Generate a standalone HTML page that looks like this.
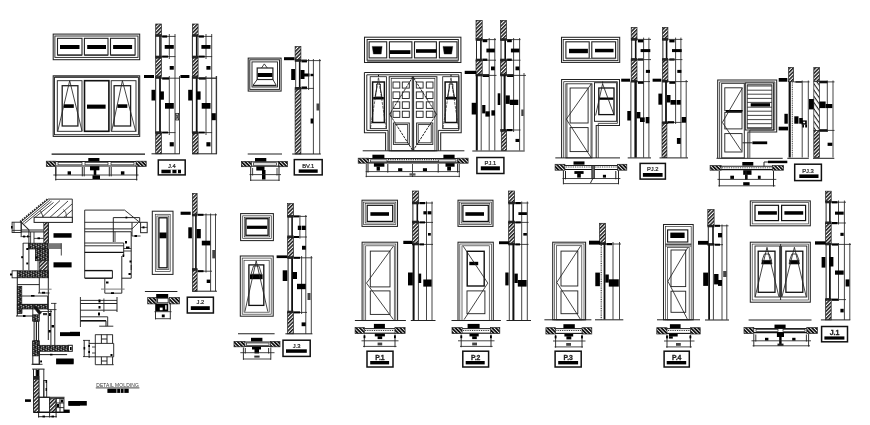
<!DOCTYPE html>
<html><head><meta charset="utf-8"><title>Door and window detail</title>
<style>html,body{margin:0;padding:0;background:#fff}svg{display:block;will-change:transform}text{font-family:"Liberation Sans",sans-serif}</style>
</head><body>
<svg width="870" height="425" viewBox="0 0 870 425">
<rect width="870" height="425" fill="#fff"/>
<defs>
<pattern id="h" width="2.6" height="2.6" patternUnits="userSpaceOnUse" patternTransform="rotate(-45)"><rect width="2.6" height="2.6" fill="#fff"/><rect width="2.6" height="1.5" fill="#1a1a1a"/></pattern>
<pattern id="hd" width="2.6" height="2.6" patternUnits="userSpaceOnUse" patternTransform="rotate(45)"><rect width="2.6" height="2.6" fill="#fff"/><rect width="2.6" height="1.8" fill="#111"/></pattern>
<pattern id="h2" width="3.6" height="3.6" patternUnits="userSpaceOnUse" patternTransform="rotate(55)"><rect width="3.6" height="3.6" fill="#fff"/><rect width="3.6" height="1.1" fill="#222"/></pattern>
<pattern id="st" width="5" height="4" patternUnits="userSpaceOnUse"><rect width="5" height="4" fill="#1a1a1a"/><rect x="0.5" y="0.7" width="1.3" height="1" fill="#eee"/><rect x="2.8" y="2.3" width="1.4" height="1" fill="#e4e4e4"/><rect x="3.4" y="0.3" width="0.9" height="0.9" fill="#ddd"/><rect x="1.2" y="2.7" width="0.9" height="0.9" fill="#ddd"/></pattern>
</defs>
<rect x="53.2" y="34.1" width="86.5" height="25.6" fill="none" stroke="#222" stroke-width="1.03"/>
<rect x="54.9" y="36" width="83.1" height="21.4" fill="none" stroke="#222" stroke-width="0.92"/>
<rect x="57.5" y="38.3" width="24.5" height="16.7" fill="none" stroke="#222" stroke-width="1.1"/>
<line x1="57.5" y1="55.3" x2="82" y2="55.3" stroke="#444" stroke-width="1.4"/>
<rect x="84.4" y="38.3" width="23.6" height="16.7" fill="none" stroke="#222" stroke-width="1.1"/>
<line x1="84.4" y1="55.3" x2="108" y2="55.3" stroke="#444" stroke-width="1.4"/>
<rect x="110.5" y="38.3" width="24.6" height="16.7" fill="none" stroke="#222" stroke-width="1.1"/>
<line x1="110.5" y1="55.3" x2="135.1" y2="55.3" stroke="#444" stroke-width="1.4"/>
<rect x="60" y="45" width="19.5" height="4" fill="#000"/>
<rect x="87.2" y="45" width="18.8" height="4" fill="#000"/>
<rect x="113.1" y="45" width="19" height="4" fill="#000"/>
<rect x="53.2" y="75.8" width="86.5" height="60.6" fill="none" stroke="#222" stroke-width="1.03"/>
<rect x="54.5" y="77.4" width="83.9" height="57.3" fill="none" stroke="#222" stroke-width="0.92"/>
<line x1="54.5" y1="76.6" x2="138.4" y2="76.6" stroke="#555" stroke-width="1.2"/>
<rect x="57.3" y="80.7" width="24.7" height="50.6" fill="none" stroke="#222" stroke-width="0.92"/>
<rect x="84.5" y="80.7" width="24.4" height="50.6" fill="none" stroke="#111" stroke-width="1.6"/>
<rect x="111.2" y="80.7" width="24.8" height="50.6" fill="none" stroke="#222" stroke-width="0.92"/>
<rect x="62.2" y="85.7" width="15.7" height="40.3" fill="none" stroke="#222" stroke-width="1.3"/>
<rect x="114.1" y="85.7" width="16.5" height="40.3" fill="none" stroke="#222" stroke-width="1.3"/>
<polyline points="57.8,131 69.7,80.7 82,131" fill="none" stroke="#222" stroke-width="0.84"/>
<polyline points="111.7,131 122.4,80.7 135.6,131" fill="none" stroke="#222" stroke-width="0.84"/>
<rect x="63.9" y="104.3" width="9.9" height="3.6" fill="#000"/>
<rect x="87" y="104.6" width="18.6" height="4.1" fill="#000"/>
<rect x="117.4" y="104.3" width="9.9" height="3.6" fill="#000"/>
<rect x="144" y="75" width="10" height="3" fill="#000"/>
<rect x="180.4" y="75" width="9" height="3" fill="#000"/>
<rect x="155.7" y="24" width="5.7" height="11.5" fill="url(#h)" stroke="#222" stroke-width="0.7"/>
<rect x="155.7" y="58" width="5.7" height="18" fill="url(#h)" stroke="#222" stroke-width="0.7"/>
<rect x="155.7" y="133" width="5.7" height="20.8" fill="url(#h)" stroke="#222" stroke-width="0.7"/>
<line x1="155.7" y1="35.5" x2="155.7" y2="58" stroke="#222" stroke-width="0.98"/>
<line x1="160" y1="35.5" x2="160" y2="58" stroke="#111" stroke-width="1.6"/>
<line x1="161.4" y1="35.5" x2="161.4" y2="58" stroke="#222" stroke-width="0.7"/>
<line x1="155.7" y1="76" x2="155.7" y2="133" stroke="#222" stroke-width="0.98"/>
<line x1="160" y1="76" x2="160" y2="133" stroke="#111" stroke-width="1.8"/>
<rect x="155.4" y="34.2" width="6.3" height="2.6" fill="#222"/>
<rect x="155.4" y="55.7" width="6.3" height="2.6" fill="#222"/>
<rect x="155.4" y="76.2" width="6.3" height="2.6" fill="#222"/>
<rect x="155.4" y="131.3" width="6.3" height="2.6" fill="#222"/>
<line x1="161.4" y1="36.4" x2="175.4" y2="36.4" stroke="#222" stroke-width="0.84"/>
<line x1="161.4" y1="56.6" x2="175.4" y2="56.6" stroke="#222" stroke-width="0.84"/>
<line x1="161.4" y1="78.2" x2="179.8" y2="78.2" stroke="#222" stroke-width="0.84"/>
<line x1="161.4" y1="132.6" x2="175.4" y2="132.6" stroke="#222" stroke-width="0.84"/>
<line x1="169.3" y1="34" x2="169.3" y2="59" stroke="#222" stroke-width="0.84"/>
<line x1="175" y1="34" x2="175" y2="153.8" stroke="#222" stroke-width="0.84"/>
<line x1="169.3" y1="76" x2="169.3" y2="135" stroke="#222" stroke-width="0.84"/>
<line x1="179.5" y1="76" x2="179.5" y2="153.8" stroke="#222" stroke-width="0.84"/>
<rect x="162.2" y="35.4" width="5" height="2.2" fill="#000"/>
<rect x="164.7" y="45" width="9.1" height="3.8" fill="#000"/>
<rect x="162.2" y="55.6" width="5.8" height="2" fill="#000"/>
<rect x="169.7" y="66" width="4.1" height="3.7" fill="#000"/>
<rect x="162.2" y="77.4" width="6.8" height="2.2" fill="#000"/>
<rect x="151.5" y="89.8" width="3.8" height="10.7" fill="#000"/>
<rect x="160" y="91.4" width="3.9" height="8.3" fill="#000"/>
<rect x="165" y="103" width="8.8" height="5.7" fill="#000"/>
<rect x="162.2" y="131.6" width="5.8" height="1.8" fill="#000"/>
<rect x="169.7" y="142.2" width="4.1" height="4.2" fill="#000"/>
<rect x="192.4" y="24" width="5.7" height="11.5" fill="url(#h)" stroke="#222" stroke-width="0.7"/>
<rect x="192.4" y="58" width="5.7" height="18" fill="url(#h)" stroke="#222" stroke-width="0.7"/>
<rect x="192.4" y="133" width="5.7" height="20.8" fill="url(#h)" stroke="#222" stroke-width="0.7"/>
<line x1="192.4" y1="35.5" x2="192.4" y2="58" stroke="#222" stroke-width="0.98"/>
<line x1="196.7" y1="35.5" x2="196.7" y2="58" stroke="#111" stroke-width="1.6"/>
<line x1="198.1" y1="35.5" x2="198.1" y2="58" stroke="#222" stroke-width="0.7"/>
<line x1="192.4" y1="76" x2="192.4" y2="133" stroke="#222" stroke-width="0.98"/>
<line x1="196.7" y1="76" x2="196.7" y2="133" stroke="#111" stroke-width="1.8"/>
<rect x="192.1" y="34.2" width="6.3" height="2.6" fill="#222"/>
<rect x="192.1" y="55.7" width="6.3" height="2.6" fill="#222"/>
<rect x="192.1" y="76.2" width="6.3" height="2.6" fill="#222"/>
<rect x="192.1" y="131.3" width="6.3" height="2.6" fill="#222"/>
<line x1="198.1" y1="36.4" x2="212.1" y2="36.4" stroke="#222" stroke-width="0.84"/>
<line x1="198.1" y1="56.6" x2="212.1" y2="56.6" stroke="#222" stroke-width="0.84"/>
<line x1="198.1" y1="78.2" x2="216.7" y2="78.2" stroke="#222" stroke-width="0.84"/>
<line x1="198.1" y1="132.6" x2="212.1" y2="132.6" stroke="#222" stroke-width="0.84"/>
<line x1="206" y1="34" x2="206" y2="59" stroke="#222" stroke-width="0.84"/>
<line x1="211.7" y1="34" x2="211.7" y2="153.8" stroke="#222" stroke-width="0.84"/>
<line x1="206" y1="76" x2="206" y2="135" stroke="#222" stroke-width="0.84"/>
<line x1="216.2" y1="76" x2="216.2" y2="153.8" stroke="#222" stroke-width="0.84"/>
<rect x="198.9" y="35.4" width="5" height="2.2" fill="#000"/>
<rect x="201.4" y="45" width="9.1" height="3.8" fill="#000"/>
<rect x="198.9" y="55.6" width="5.8" height="2" fill="#000"/>
<rect x="206.4" y="66" width="4.1" height="3.7" fill="#000"/>
<rect x="198.9" y="77.4" width="6.8" height="2.2" fill="#000"/>
<rect x="188.2" y="89.8" width="3.8" height="10.7" fill="#000"/>
<rect x="196.7" y="91.4" width="3.9" height="8.3" fill="#000"/>
<rect x="201.7" y="103" width="8.8" height="5.7" fill="#000"/>
<rect x="198.9" y="131.6" width="5.8" height="1.8" fill="#000"/>
<rect x="206.4" y="142.2" width="4.1" height="4.2" fill="#000"/>
<rect x="175.6" y="113.4" width="3" height="6.6" fill="none" stroke="#333" stroke-width="0.84"/>
<line x1="175.6" y1="113.4" x2="178.6" y2="120" stroke="#222" stroke-width="0.84"/>
<line x1="178.6" y1="113.4" x2="175.6" y2="120" stroke="#222" stroke-width="0.84"/>
<rect x="211.7" y="113.2" width="4.1" height="7" fill="#000"/>
<line x1="216.6" y1="76" x2="216.6" y2="153.8" stroke="#222" stroke-width="0.84"/>
<line x1="198" y1="78.2" x2="217" y2="78.2" stroke="#222" stroke-width="0.84"/>
<line x1="151.5" y1="153.8" x2="179.8" y2="153.8" stroke="#222" stroke-width="1.03"/>
<line x1="192.2" y1="153.8" x2="217" y2="153.8" stroke="#222" stroke-width="1.03"/>
<rect x="158.3" y="160" width="26.9" height="14.9" fill="#fff" stroke="#111" stroke-width="1.5"/>
<text x="171.8" y="168.3" font-size="5.8" font-weight="normal" text-anchor="middle" fill="#222" stroke="#222" stroke-width="0.22">J.4</text>
<rect x="161.4" y="169.7" width="19.6" height="3.6" fill="#000"/>
<rect x="170.7" y="169.5" width="1.7" height="4" fill="#fff"/>
<rect x="176.5" y="169.5" width="1.5" height="4" fill="#fff"/>
<line x1="51.6" y1="154.1" x2="145" y2="154.1" stroke="#111" stroke-width="1.1"/>
<rect x="46.3" y="161.2" width="9.5" height="5.3" fill="url(#hd)" stroke="#222" stroke-width="0.7"/>
<rect x="136" y="161.2" width="10.2" height="5.3" fill="url(#hd)" stroke="#222" stroke-width="0.7"/>
<line x1="55.8" y1="161.4" x2="136" y2="161.4" stroke="#222" stroke-width="1.03"/>
<line x1="55.8" y1="166" x2="136" y2="166" stroke="#111" stroke-width="1.2"/>
<rect x="58" y="162.6" width="24" height="2.2" fill="none" stroke="#222" stroke-width="0.7"/>
<rect x="85" y="162.6" width="23" height="2.2" fill="none" stroke="#222" stroke-width="0.7"/>
<rect x="111" y="162.6" width="23" height="2.2" fill="none" stroke="#222" stroke-width="0.7"/>
<rect x="88.3" y="158" width="11.1" height="3.2" fill="#000"/>
<rect x="90" y="166.2" width="9.4" height="4.1" fill="#000"/>
<rect x="93.7" y="170" width="2.6" height="5.3" fill="#000"/>
<rect x="92.5" y="175.3" width="7.5" height="3.7" fill="#000"/>
<line x1="53.3" y1="175" x2="138.5" y2="175" stroke="#222" stroke-width="0.84"/>
<line x1="55.2" y1="179.4" x2="137.3" y2="179.4" stroke="#222" stroke-width="0.84"/>
<line x1="55.8" y1="167" x2="55.8" y2="176.3" stroke="#222" stroke-width="0.98"/>
<line x1="82.3" y1="167" x2="82.3" y2="176.3" stroke="#222" stroke-width="0.98"/>
<line x1="84.2" y1="167" x2="84.2" y2="176.3" stroke="#222" stroke-width="0.98"/>
<line x1="109.3" y1="167" x2="109.3" y2="176.3" stroke="#222" stroke-width="0.98"/>
<line x1="111.2" y1="167" x2="111.2" y2="176.3" stroke="#222" stroke-width="0.98"/>
<line x1="136.7" y1="167" x2="136.7" y2="176.3" stroke="#222" stroke-width="0.98"/>
<line x1="55.8" y1="167" x2="55.8" y2="180.5" stroke="#222" stroke-width="0.98"/>
<line x1="136.7" y1="167" x2="136.7" y2="180.5" stroke="#222" stroke-width="0.98"/>
<rect x="67.6" y="171.3" width="3.4" height="3.4" fill="#000"/>
<rect x="120.9" y="171.3" width="3.5" height="3.4" fill="#000"/>
<rect x="248.2" y="58.1" width="32.9" height="33" fill="none" stroke="#222" stroke-width="1.03"/>
<rect x="249.8" y="59.8" width="29.7" height="29.6" fill="none" stroke="#222" stroke-width="0.98"/>
<rect x="252" y="61.9" width="25.5" height="25.1" fill="none" stroke="#222" stroke-width="0.92"/>
<rect x="257.2" y="68" width="15.7" height="11.5" fill="none" stroke="#222" stroke-width="1.2"/>
<rect x="257.8" y="73" width="14.5" height="4" fill="#000"/>
<line x1="259.5" y1="78.4" x2="270.5" y2="78.4" stroke="#fff" stroke-width="0.92"/>
<polyline points="257.2,79.5 253,85.3 276.2,85.3 272.9,79.5" fill="none" stroke="#222" stroke-width="0.92"/>
<line x1="253" y1="85.6" x2="276.2" y2="85.6" stroke="#222" stroke-width="1.2"/>
<polyline points="261.5,68 264.3,63.9 267.3,68" fill="none" stroke="#222" stroke-width="0.84"/>
<rect x="295.1" y="46.6" width="5.8" height="13.4" fill="url(#h)" stroke="#222" stroke-width="0.7"/>
<rect x="295.1" y="89" width="5.8" height="65" fill="url(#h)" stroke="#222" stroke-width="0.7"/>
<line x1="295.7" y1="60" x2="295.7" y2="89" stroke="#222" stroke-width="0.84"/>
<line x1="299.7" y1="60" x2="299.7" y2="89" stroke="#111" stroke-width="1.6"/>
<rect x="294.8" y="59.2" width="6.4" height="2.6" fill="#222"/>
<rect x="294.8" y="87" width="6.4" height="2.6" fill="#222"/>
<rect x="284" y="57.2" width="10.5" height="3" fill="#000"/>
<rect x="301.5" y="59.6" width="5.5" height="2.8" fill="#000"/>
<rect x="301.5" y="86.5" width="5.5" height="2.7" fill="#000"/>
<rect x="291.2" y="69" width="3.8" height="11" fill="#000"/>
<rect x="300.5" y="70" width="4" height="9" fill="#000"/>
<rect x="304" y="73.5" width="5.5" height="3" fill="#000"/>
<rect x="310.5" y="73.8" width="3" height="2.4" fill="#000"/>
<line x1="300.9" y1="60.6" x2="321" y2="60.6" stroke="#222" stroke-width="0.84"/>
<line x1="300.9" y1="88.4" x2="314" y2="88.4" stroke="#222" stroke-width="0.84"/>
<line x1="308.6" y1="59" x2="308.6" y2="90" stroke="#222" stroke-width="0.84"/>
<line x1="313.4" y1="59" x2="313.4" y2="154" stroke="#222" stroke-width="0.84"/>
<line x1="319.7" y1="59" x2="319.7" y2="154" stroke="#222" stroke-width="0.84"/>
<rect x="316.5" y="103.5" width="2.8" height="7" fill="#444"/>
<rect x="310.6" y="118.5" width="2.6" height="5" fill="#000"/>
<line x1="292.2" y1="154" x2="320.8" y2="154" stroke="#222" stroke-width="1.03"/>
<rect x="294.3" y="159.6" width="27.9" height="15.3" fill="#fff" stroke="#111" stroke-width="1.5"/>
<text x="308.2" y="167.7" font-size="5.8" font-weight="normal" text-anchor="middle" fill="#222" stroke="#222" stroke-width="0.22">BV.1</text>
<rect x="298.7" y="169.4" width="19" height="3.4" fill="#000"/>
<line x1="247.7" y1="154" x2="282" y2="154" stroke="#222" stroke-width="1.03"/>
<rect x="241.4" y="161.4" width="10.1" height="5.3" fill="url(#hd)" stroke="#222" stroke-width="0.7"/>
<rect x="278.4" y="161.4" width="9.1" height="5.3" fill="url(#hd)" stroke="#222" stroke-width="0.7"/>
<line x1="251.5" y1="161.8" x2="278.4" y2="161.8" stroke="#222" stroke-width="1.03"/>
<line x1="251.5" y1="166.2" x2="278.4" y2="166.2" stroke="#222" stroke-width="1.1"/>
<rect x="253.5" y="162.8" width="23" height="2.4" fill="none" stroke="#222" stroke-width="0.7"/>
<rect x="255" y="158" width="11.3" height="3.5" fill="#000"/>
<rect x="256.3" y="166.5" width="8.2" height="4" fill="#000"/>
<rect x="262" y="170" width="3.5" height="9.5" fill="#000"/>
<line x1="249.5" y1="174.6" x2="281" y2="174.6" stroke="#222" stroke-width="0.84"/>
<line x1="250.5" y1="180.2" x2="279.5" y2="180.2" stroke="#222" stroke-width="0.84"/>
<line x1="250.7" y1="167" x2="250.7" y2="181" stroke="#222" stroke-width="0.98"/>
<line x1="279" y1="167" x2="279" y2="181" stroke="#222" stroke-width="0.98"/>
<line x1="252.6" y1="168" x2="252.6" y2="175.5" stroke="#222" stroke-width="0.84"/>
<line x1="277" y1="168" x2="277" y2="175.5" stroke="#222" stroke-width="0.84"/>
<rect x="364.5" y="37.2" width="96.4" height="25.3" fill="none" stroke="#222" stroke-width="1.03"/>
<rect x="367.1" y="39.5" width="91.2" height="20.7" fill="none" stroke="#222" stroke-width="1.03"/>
<line x1="367.1" y1="61.2" x2="458.3" y2="61.2" stroke="#555" stroke-width="1.2"/>
<rect x="369.1" y="41.8" width="17.6" height="16.1" fill="none" stroke="#222" stroke-width="1.1"/>
<rect x="389.4" y="41.8" width="22.5" height="16.1" fill="none" stroke="#222" stroke-width="1.1"/>
<rect x="414.5" y="41.8" width="21.9" height="16.1" fill="none" stroke="#222" stroke-width="1.1"/>
<rect x="439.4" y="41.8" width="17.6" height="16.1" fill="none" stroke="#222" stroke-width="1.1"/>
<polygon points="372.2,46.4 382.1,46.4 381.2,54 373.4,54" fill="#000" stroke="#222" stroke-width="0.42"/>
<polygon points="443,46.4 452.8,46.4 451.6,54 444.2,54" fill="#000" stroke="#222" stroke-width="0.42"/>
<rect x="389.8" y="50.2" width="20.6" height="3.8" fill="#000"/>
<rect x="416" y="49.2" width="20.4" height="3.6" fill="#000"/>
<polyline points="364.4,72.4 461.2,72.4 461.2,132.8 440.7,132.8 440.7,150.8" fill="none" stroke="#222" stroke-width="1.03"/>
<polyline points="364.4,72.4 364.4,132.8 385.6,132.8 385.6,150.8" fill="none" stroke="#222" stroke-width="1.03"/>
<polyline points="366.8,74.8 458.8,74.8 458.8,130.4 438.3,130.4 438.3,150.8" fill="none" stroke="#222" stroke-width="0.98"/>
<polyline points="366.8,74.8 366.8,130.4 388,130.4 388,150.8" fill="none" stroke="#222" stroke-width="0.98"/>
<line x1="362.7" y1="150.8" x2="464.4" y2="150.8" stroke="#222" stroke-width="1"/>
<rect x="370.2" y="76.7" width="16.2" height="51.9" fill="none" stroke="#222" stroke-width="0.84"/>
<rect x="372.6" y="82" width="11.8" height="40.5" fill="none" stroke="#111" stroke-width="1.5"/>
<rect x="373.2" y="97" width="10.6" height="2.5" fill="#000"/>
<polygon points="376.7,84 380.3,84 380.3,88 381.9,97 375.1,97 376.7,88" fill="none" stroke="#222" stroke-width="0.98"/>
<polyline points="370.5,128 378.5,77.4 386,128" fill="none" stroke="#222" stroke-width="0.7" stroke-dasharray="3 1"/>
<rect x="378" y="74.8" width="1" height="1.5" fill="#000"/>
<rect x="442.7" y="76.7" width="16.2" height="51.9" fill="none" stroke="#222" stroke-width="0.84"/>
<rect x="445.1" y="82" width="11.8" height="40.5" fill="none" stroke="#111" stroke-width="1.5"/>
<rect x="445.7" y="97" width="10.6" height="2.5" fill="#000"/>
<polygon points="449.2,84 452.8,84 452.8,88 454.4,97 447.6,97 449.2,88" fill="none" stroke="#222" stroke-width="0.98"/>
<polyline points="443,128 451,77.4 458.5,128" fill="none" stroke="#222" stroke-width="0.7" stroke-dasharray="3 1"/>
<rect x="450.5" y="74.8" width="1" height="1.5" fill="#000"/>
<rect x="389.2" y="76.7" width="47.7" height="74.1" fill="none" stroke="#222" stroke-width="0.98"/>
<rect x="391.2" y="78.6" width="43.7" height="72.2" fill="none" stroke="#222" stroke-width="0.7"/>
<line x1="412.3" y1="76.7" x2="412.3" y2="150.8" stroke="#222" stroke-width="0.98"/>
<line x1="413.6" y1="76.7" x2="413.6" y2="150.8" stroke="#222" stroke-width="0.98"/>
<rect x="393" y="82" width="6.8" height="6.1" fill="none" stroke="#222" stroke-width="0.92"/>
<rect x="393" y="91.9" width="6.8" height="6.6" fill="none" stroke="#222" stroke-width="0.92"/>
<rect x="393" y="101.8" width="6.8" height="6.6" fill="none" stroke="#222" stroke-width="0.92"/>
<rect x="393" y="111.2" width="6.8" height="6.2" fill="none" stroke="#222" stroke-width="0.92"/>
<rect x="402.3" y="82" width="7" height="6.1" fill="none" stroke="#222" stroke-width="0.92"/>
<rect x="402.3" y="91.9" width="7" height="6.6" fill="none" stroke="#222" stroke-width="0.92"/>
<rect x="402.3" y="101.8" width="7" height="6.6" fill="none" stroke="#222" stroke-width="0.92"/>
<rect x="402.3" y="111.2" width="7" height="6.2" fill="none" stroke="#222" stroke-width="0.92"/>
<rect x="416.3" y="82" width="6.8" height="6.1" fill="none" stroke="#222" stroke-width="0.92"/>
<rect x="416.3" y="91.9" width="6.8" height="6.6" fill="none" stroke="#222" stroke-width="0.92"/>
<rect x="416.3" y="101.8" width="6.8" height="6.6" fill="none" stroke="#222" stroke-width="0.92"/>
<rect x="416.3" y="111.2" width="6.8" height="6.2" fill="none" stroke="#222" stroke-width="0.92"/>
<rect x="426.3" y="82" width="6.7" height="6.1" fill="none" stroke="#222" stroke-width="0.92"/>
<rect x="426.3" y="91.9" width="6.7" height="6.6" fill="none" stroke="#222" stroke-width="0.92"/>
<rect x="426.3" y="101.8" width="6.7" height="6.6" fill="none" stroke="#222" stroke-width="0.92"/>
<rect x="426.3" y="111.2" width="6.7" height="6.2" fill="none" stroke="#222" stroke-width="0.92"/>
<rect x="393.4" y="123" width="15.9" height="21.4" fill="none" stroke="#222" stroke-width="0.92"/>
<rect x="395" y="124.6" width="12.7" height="18.2" fill="none" stroke="#222" stroke-width="0.84"/>
<rect x="416.6" y="123" width="16.2" height="21.4" fill="none" stroke="#222" stroke-width="0.92"/>
<rect x="418.2" y="124.6" width="13" height="18.2" fill="none" stroke="#222" stroke-width="0.84"/>
<polygon points="412.9,76.7 389.6,114.2 412.9,150.8 436.5,114.2" fill="none" stroke="#222" stroke-width="0.98" stroke-dasharray="2.6 0.9"/>
<path d="M391.5 111.3 Q388.6 114.2 391.5 117.1 M434.6 111.3 Q437.5 114.2 434.6 117.1" fill="none" stroke="#222" stroke-width="0.8"/>
<rect x="358.2" y="158.2" width="10.5" height="5" fill="url(#hd)" stroke="#222" stroke-width="0.7"/>
<rect x="457.6" y="158.2" width="10.5" height="5" fill="url(#hd)" stroke="#222" stroke-width="0.7"/>
<line x1="368.7" y1="158.6" x2="457.6" y2="158.6" stroke="#222" stroke-width="1.03"/>
<line x1="368.7" y1="162.9" x2="457.6" y2="162.9" stroke="#111" stroke-width="1.2"/>
<rect x="370.5" y="159.8" width="16.5" height="2" fill="none" stroke="#222" stroke-width="0.7"/>
<rect x="438.5" y="159.8" width="17.5" height="2" fill="none" stroke="#222" stroke-width="0.7"/>
<line x1="388" y1="159.6" x2="437.5" y2="159.6" stroke="#222" stroke-width="1.1" stroke-dasharray="0.9 0.9"/>
<line x1="387" y1="161.4" x2="438.2" y2="161.4" stroke="#222" stroke-width="0.98"/>
<rect x="372.4" y="154.7" width="12" height="3.8" fill="#000"/>
<rect x="443.4" y="154.7" width="11.2" height="3.8" fill="#000"/>
<rect x="373.9" y="163.2" width="10.5" height="3.5" fill="#000"/>
<rect x="376.6" y="166.5" width="3.3" height="4.1" fill="#000"/>
<rect x="445.5" y="163.2" width="9.1" height="3.5" fill="#000"/>
<rect x="447.2" y="166.5" width="3.8" height="4.1" fill="#000"/>
<rect x="398.1" y="168.2" width="4.2" height="3" fill="#000"/>
<rect x="422.9" y="168.2" width="4.1" height="3" fill="#000"/>
<line x1="365.7" y1="171.6" x2="459.9" y2="171.6" stroke="#222" stroke-width="0.84"/>
<line x1="365.7" y1="176.4" x2="459.9" y2="176.4" stroke="#222" stroke-width="0.84"/>
<line x1="368" y1="164" x2="368" y2="172.5" stroke="#222" stroke-width="1.03"/>
<line x1="387.8" y1="164" x2="387.8" y2="172.5" stroke="#222" stroke-width="1.03"/>
<line x1="438.2" y1="164" x2="438.2" y2="172.5" stroke="#222" stroke-width="1.03"/>
<line x1="457.6" y1="164" x2="457.6" y2="172.5" stroke="#222" stroke-width="1.03"/>
<line x1="412.5" y1="164" x2="412.5" y2="177" stroke="#222" stroke-width="0.84"/>
<line x1="366.3" y1="164" x2="366.3" y2="177.2" stroke="#222" stroke-width="0.84"/>
<line x1="459.3" y1="164" x2="459.3" y2="177.2" stroke="#222" stroke-width="0.84"/>
<rect x="409.5" y="173.3" width="6" height="2.3" fill="#555"/>
<rect x="476" y="20.4" width="6.2" height="18.8" fill="url(#h)" stroke="#222" stroke-width="0.7"/>
<rect x="476" y="60.5" width="6.2" height="14.5" fill="url(#h)" stroke="#222" stroke-width="0.7"/>
<line x1="476.5" y1="39.2" x2="476.5" y2="60.5" stroke="#222" stroke-width="0.98"/>
<line x1="480.9" y1="39.2" x2="480.9" y2="60.5" stroke="#111" stroke-width="1.6"/>
<rect x="475.7" y="38.3" width="6.8" height="2.6" fill="#222"/>
<rect x="475.7" y="58.7" width="6.8" height="2.6" fill="#222"/>
<rect x="475.7" y="73.7" width="6.8" height="2.6" fill="#222"/>
<line x1="476.8" y1="75" x2="476.8" y2="150.5" stroke="#111" stroke-width="2"/>
<line x1="481.2" y1="75" x2="481.2" y2="150.5" stroke="#222" stroke-width="0.84"/>
<line x1="489.2" y1="38" x2="489.2" y2="150.5" stroke="#222" stroke-width="0.84"/>
<line x1="494.8" y1="38" x2="494.8" y2="150.5" stroke="#222" stroke-width="0.84"/>
<rect x="464.7" y="70.8" width="11.3" height="3.2" fill="#000"/>
<rect x="500.5" y="20.4" width="6" height="18.8" fill="url(#h)" stroke="#222" stroke-width="0.7"/>
<rect x="500.5" y="60.5" width="6" height="14.5" fill="url(#h)" stroke="#222" stroke-width="0.7"/>
<rect x="501.3" y="130.4" width="5.3" height="20.1" fill="url(#h)" stroke="#222" stroke-width="0.7"/>
<line x1="501" y1="39.2" x2="501" y2="60.5" stroke="#222" stroke-width="0.98"/>
<line x1="505.2" y1="39.2" x2="505.2" y2="60.5" stroke="#111" stroke-width="1.6"/>
<rect x="500.2" y="38.3" width="6.6" height="2.6" fill="#222"/>
<rect x="500.2" y="58.7" width="6.6" height="2.6" fill="#222"/>
<rect x="500.2" y="73.7" width="6.6" height="2.6" fill="#222"/>
<rect x="500.2" y="129.1" width="6.6" height="2.6" fill="#222"/>
<line x1="504.6" y1="75" x2="504.6" y2="130.4" stroke="#111" stroke-width="2"/>
<line x1="501.3" y1="75" x2="501.3" y2="130.4" stroke="#222" stroke-width="0.84"/>
<line x1="513.6" y1="38" x2="513.6" y2="132" stroke="#222" stroke-width="0.84"/>
<line x1="519.6" y1="38" x2="519.6" y2="150.5" stroke="#222" stroke-width="0.84"/>
<line x1="524" y1="73" x2="524" y2="150.5" stroke="#222" stroke-width="0.84"/>
<rect x="482.6" y="39.2" width="4.7" height="3" fill="#000"/>
<rect x="486.4" y="48.6" width="8.4" height="3.8" fill="#000"/>
<rect x="482.6" y="58.6" width="4.7" height="2.4" fill="#000"/>
<rect x="491" y="66.5" width="3.8" height="3.8" fill="#000"/>
<rect x="482.6" y="74.2" width="6.4" height="2.8" fill="#000"/>
<line x1="482.2" y1="39.6" x2="496" y2="39.6" stroke="#222" stroke-width="0.84"/>
<line x1="482.2" y1="60.2" x2="496" y2="60.2" stroke="#222" stroke-width="0.84"/>
<rect x="507.1" y="39.2" width="4.7" height="3" fill="#000"/>
<rect x="510.9" y="48.6" width="8.4" height="3.8" fill="#000"/>
<rect x="507.1" y="58.6" width="4.7" height="2.4" fill="#000"/>
<rect x="515.5" y="66.5" width="3.8" height="3.8" fill="#000"/>
<rect x="507.1" y="74.2" width="6.4" height="2.8" fill="#000"/>
<line x1="506.7" y1="39.6" x2="520.5" y2="39.6" stroke="#222" stroke-width="0.84"/>
<line x1="506.7" y1="60.2" x2="520.5" y2="60.2" stroke="#222" stroke-width="0.84"/>
<line x1="482.2" y1="75.4" x2="496.5" y2="75.4" stroke="#222" stroke-width="0.84"/>
<line x1="506.5" y1="75.4" x2="526" y2="75.4" stroke="#222" stroke-width="0.84"/>
<line x1="506.6" y1="130" x2="520.5" y2="130" stroke="#222" stroke-width="0.84"/>
<rect x="507" y="129" width="5.5" height="2.2" fill="#000"/>
<rect x="471.7" y="102.8" width="4.3" height="11.7" fill="#000"/>
<rect x="482.2" y="105" width="3.2" height="8.4" fill="#000"/>
<rect x="485.4" y="111.3" width="4.3" height="5.3" fill="#000"/>
<rect x="491.4" y="110.3" width="3.6" height="5.3" fill="#000"/>
<rect x="497.7" y="93.3" width="2.6" height="11.7" fill="#000"/>
<rect x="505.6" y="95.4" width="4.2" height="8.5" fill="#000"/>
<rect x="509.8" y="99.7" width="8.5" height="5.3" fill="#000"/>
<rect x="515.5" y="138.9" width="3.8" height="3.1" fill="#000"/>
<rect x="521.3" y="109.5" width="2.3" height="6.5" fill="#444"/>
<line x1="472.3" y1="151" x2="524.7" y2="151" stroke="#222" stroke-width="1.03"/>
<rect x="476.9" y="157.5" width="27" height="16" fill="#fff" stroke="#111" stroke-width="1.5"/>
<text x="490.4" y="164.7" font-size="5.8" font-weight="normal" text-anchor="middle" fill="#222" stroke="#222" stroke-width="0.22">PJ.1</text>
<rect x="480.8" y="166.3" width="19.1" height="4" fill="#000"/>
<rect x="561.5" y="37.3" width="58.2" height="25.1" fill="none" stroke="#222" stroke-width="1.03"/>
<rect x="563.2" y="39.5" width="54.7" height="21.1" fill="none" stroke="#222" stroke-width="0.92"/>
<rect x="565.9" y="41.8" width="23.3" height="16.4" fill="none" stroke="#222" stroke-width="1.1"/>
<rect x="591.8" y="41.8" width="23.8" height="16.4" fill="none" stroke="#222" stroke-width="1.1"/>
<line x1="565.9" y1="58.8" x2="615.6" y2="58.8" stroke="#555" stroke-width="1.1"/>
<rect x="569" y="48.8" width="18.9" height="4.4" fill="#000"/>
<rect x="595" y="48.8" width="18.5" height="3.5" fill="#000"/>
<polyline points="596.2,157.9 596.2,125.5 619.5,125.5 619.5,79.5 561.6,79.5 561.6,157.9" fill="none" stroke="#222" stroke-width="1.03"/>
<polyline points="598.3,157.9 598.3,123.4 617.4,123.4 617.4,81.6 563.7,81.6 563.7,157.9" fill="none" stroke="#222" stroke-width="0.77"/>
<line x1="555.3" y1="157.9" x2="620" y2="157.9" stroke="#222" stroke-width="1"/>
<rect x="565.9" y="83.8" width="26.1" height="74.1" fill="none" stroke="#222" stroke-width="0.84"/>
<line x1="567" y1="83.8" x2="567" y2="157.9" stroke="#222" stroke-width="0.7"/>
<line x1="591" y1="83.8" x2="591" y2="157.9" stroke="#222" stroke-width="0.7"/>
<rect x="570.1" y="88" width="18" height="35" fill="none" stroke="#222" stroke-width="0.92"/>
<rect x="570.1" y="127.6" width="18" height="24" fill="none" stroke="#222" stroke-width="0.92"/>
<polyline points="591.3,83.8 566.3,119.2 591.3,157.9" fill="none" stroke="#222" stroke-width="0.84"/>
<rect x="594.5" y="82.7" width="22.2" height="38.6" fill="none" stroke="#222" stroke-width="0.98"/>
<rect x="598.8" y="88" width="15.2" height="26.6" fill="none" stroke="#111" stroke-width="1.3"/>
<rect x="599.3" y="97.5" width="14.1" height="2.3" fill="#000"/>
<polyline points="595.6,115.5 602.6,83.8 614.2,115.2" fill="none" stroke="#222" stroke-width="0.84"/>
<line x1="602.6" y1="83.6" x2="602.6" y2="81.5" stroke="#222" stroke-width="0.92"/>
<rect x="631.2" y="27.4" width="5.8" height="11.6" fill="url(#h)" stroke="#222" stroke-width="0.7"/>
<rect x="631.2" y="59.7" width="5.8" height="21.7" fill="url(#h)" stroke="#222" stroke-width="0.7"/>
<line x1="631.7" y1="39" x2="631.7" y2="59.7" stroke="#222" stroke-width="0.98"/>
<line x1="635.7" y1="39" x2="635.7" y2="59.7" stroke="#111" stroke-width="1.6"/>
<rect x="630.9" y="38.1" width="6.4" height="2.6" fill="#222"/>
<rect x="630.9" y="58.1" width="6.4" height="2.6" fill="#222"/>
<rect x="630.9" y="79.9" width="6.4" height="2.6" fill="#222"/>
<line x1="630.9" y1="81.4" x2="630.9" y2="157.6" stroke="#222" stroke-width="0.84"/>
<line x1="635.6" y1="81.4" x2="635.6" y2="157.6" stroke="#111" stroke-width="2.4"/>
<line x1="643.6" y1="37.6" x2="643.6" y2="157.6" stroke="#222" stroke-width="0.84"/>
<line x1="648.9" y1="37.6" x2="648.9" y2="157.6" stroke="#222" stroke-width="0.84"/>
<rect x="662.4" y="27.4" width="5.5" height="11.6" fill="url(#h)" stroke="#222" stroke-width="0.7"/>
<rect x="662.4" y="59.7" width="5.5" height="21.7" fill="url(#h)" stroke="#222" stroke-width="0.7"/>
<rect x="662" y="122.7" width="4.9" height="34.9" fill="url(#h)" stroke="#222" stroke-width="0.7"/>
<line x1="662.9" y1="39" x2="662.9" y2="59.7" stroke="#222" stroke-width="0.98"/>
<line x1="666.6" y1="39" x2="666.6" y2="59.7" stroke="#111" stroke-width="1.6"/>
<rect x="662.1" y="38.1" width="6.1" height="2.6" fill="#222"/>
<rect x="662.1" y="58.1" width="6.1" height="2.6" fill="#222"/>
<rect x="662.1" y="79.9" width="6.1" height="2.6" fill="#222"/>
<rect x="662.1" y="121.4" width="6.1" height="2.6" fill="#222"/>
<line x1="662.2" y1="81.4" x2="662.2" y2="122.7" stroke="#222" stroke-width="0.84"/>
<line x1="666" y1="81.4" x2="666" y2="122.7" stroke="#111" stroke-width="1.8"/>
<line x1="675.6" y1="37.6" x2="675.6" y2="124" stroke="#222" stroke-width="0.84"/>
<line x1="680.9" y1="37.6" x2="680.9" y2="157.6" stroke="#222" stroke-width="0.84"/>
<line x1="686.2" y1="80" x2="686.2" y2="157.6" stroke="#222" stroke-width="0.84"/>
<rect x="637.9" y="39.6" width="5.3" height="2.8" fill="#000"/>
<rect x="640.6" y="49.1" width="9.7" height="3" fill="#000"/>
<rect x="637.9" y="58.4" width="5.3" height="2.2" fill="#000"/>
<rect x="645.9" y="69.9" width="4.1" height="3" fill="#000"/>
<rect x="621.2" y="78.7" width="8.8" height="3" fill="#000"/>
<rect x="637.9" y="81.4" width="5.7" height="2.4" fill="#000"/>
<line x1="637" y1="39.4" x2="651" y2="39.4" stroke="#222" stroke-width="0.84"/>
<line x1="637" y1="59.6" x2="651" y2="59.6" stroke="#222" stroke-width="0.84"/>
<rect x="669.3" y="39.6" width="5.3" height="2.8" fill="#000"/>
<rect x="672" y="49.1" width="9.7" height="3" fill="#000"/>
<rect x="669.3" y="58.4" width="5.3" height="2.2" fill="#000"/>
<rect x="677.3" y="69.9" width="4.1" height="3" fill="#000"/>
<rect x="652.6" y="78.7" width="8.8" height="3" fill="#000"/>
<rect x="669.3" y="81.4" width="5.7" height="2.4" fill="#000"/>
<line x1="668.4" y1="39.4" x2="682.4" y2="39.4" stroke="#222" stroke-width="0.84"/>
<line x1="668.4" y1="59.6" x2="682.4" y2="59.6" stroke="#222" stroke-width="0.84"/>
<line x1="637" y1="81.6" x2="650" y2="81.6" stroke="#222" stroke-width="0.84"/>
<line x1="667.9" y1="81.6" x2="688" y2="81.6" stroke="#222" stroke-width="0.84"/>
<line x1="667" y1="122.4" x2="681.5" y2="122.4" stroke="#222" stroke-width="0.84"/>
<rect x="668" y="121.2" width="6" height="2.2" fill="#000"/>
<rect x="627.3" y="111" width="3.6" height="9.5" fill="#000"/>
<rect x="636.6" y="112" width="3.8" height="6.4" fill="#000"/>
<rect x="640" y="117.4" width="4.7" height="4.6" fill="#000"/>
<rect x="645.7" y="117" width="3.6" height="6.3" fill="#000"/>
<rect x="658.4" y="93.6" width="3.6" height="11.1" fill="#000"/>
<rect x="666.9" y="95" width="3.6" height="7.5" fill="#000"/>
<rect x="670.5" y="100" width="5.9" height="4.7" fill="#000"/>
<rect x="676.9" y="100" width="3.8" height="4.7" fill="#000"/>
<rect x="681.7" y="117" width="4.3" height="5.7" fill="#000"/>
<rect x="676.9" y="138" width="3.8" height="5.9" fill="#000"/>
<line x1="627.7" y1="157.9" x2="651" y2="157.9" stroke="#222" stroke-width="1.03"/>
<line x1="659.5" y1="157.9" x2="688" y2="157.9" stroke="#222" stroke-width="1.03"/>
<rect x="640.1" y="163.4" width="25.3" height="15.7" fill="#fff" stroke="#111" stroke-width="1.5"/>
<text x="652.8" y="171" font-size="5.8" font-weight="normal" text-anchor="middle" fill="#222" stroke="#222" stroke-width="0.22">PJ.2</text>
<rect x="642.9" y="173" width="19.7" height="3.8" fill="#000"/>
<rect x="555.1" y="164.3" width="9.8" height="5.9" fill="url(#hd)" stroke="#222" stroke-width="0.7"/>
<rect x="617.6" y="164.3" width="9.2" height="5.9" fill="url(#hd)" stroke="#222" stroke-width="0.7"/>
<line x1="564.9" y1="165.6" x2="617.6" y2="165.6" stroke="#222" stroke-width="1.03"/>
<line x1="564.9" y1="169.5" x2="617.6" y2="169.5" stroke="#111" stroke-width="1.2"/>
<line x1="566" y1="167" x2="617" y2="167" stroke="#222" stroke-width="0.92" stroke-dasharray="0.9 0.9"/>
<rect x="573.5" y="161.4" width="11" height="3.3" fill="#000"/>
<rect x="574.4" y="171.1" width="9.2" height="2.8" fill="#000"/>
<rect x="577.2" y="173.5" width="3.6" height="4.1" fill="#000"/>
<rect x="602.9" y="174.8" width="3.1" height="2.8" fill="#000"/>
<rect x="591.9" y="165.6" width="2.4" height="12.9" fill="#777" stroke="#222" stroke-width="0.98"/>
<line x1="562.5" y1="178.5" x2="620.4" y2="178.5" stroke="#222" stroke-width="0.84"/>
<line x1="563.4" y1="183.6" x2="618.5" y2="183.6" stroke="#222" stroke-width="0.84"/>
<line x1="563.4" y1="170.5" x2="563.4" y2="184.3" stroke="#222" stroke-width="0.98"/>
<line x1="618.5" y1="170.5" x2="618.5" y2="184.3" stroke="#222" stroke-width="0.98"/>
<line x1="565.5" y1="171" x2="565.5" y2="179.3" stroke="#222" stroke-width="1"/>
<line x1="615.8" y1="171" x2="615.8" y2="179.3" stroke="#222" stroke-width="1"/>
<line x1="592.8" y1="178.5" x2="590.5" y2="183" stroke="#222" stroke-width="0.98"/>
<polyline points="747.9,157.9 747.9,131.9 776.7,131.9 776.7,80 717.7,80 717.7,157.9" fill="none" stroke="#222" stroke-width="1.03"/>
<polyline points="749.8,157.9 749.8,130 774.8,130 774.8,81.9 719.6,81.9 719.6,157.9" fill="none" stroke="#222" stroke-width="0.77"/>
<line x1="716.5" y1="158.3" x2="782.7" y2="158.3" stroke="#222" stroke-width="1"/>
<rect x="721.7" y="83.3" width="22.6" height="74.6" fill="none" stroke="#222" stroke-width="0.92"/>
<rect x="724.8" y="87.8" width="17.2" height="22.9" fill="none" stroke="#222" stroke-width="0.92"/>
<rect x="724.8" y="112.4" width="17.2" height="16.5" fill="none" stroke="#222" stroke-width="0.92"/>
<rect x="724.8" y="133.6" width="17.2" height="18.4" fill="none" stroke="#222" stroke-width="0.92"/>
<rect x="725.9" y="110" width="16.7" height="1.9" fill="#000"/>
<polyline points="742.5,87.8 722.4,122.4 741.3,150.8" fill="none" stroke="#222" stroke-width="0.84"/>
<rect x="745.3" y="82.9" width="28.3" height="47.1" fill="none" stroke="#222" stroke-width="0.98"/>
<rect x="747.2" y="84.8" width="24.7" height="43.4" fill="none" stroke="#222" stroke-width="0.92"/>
<line x1="747.2" y1="86" x2="771.9" y2="86" stroke="#222" stroke-width="0.84"/>
<line x1="747.2" y1="90.2" x2="771.9" y2="90.2" stroke="#222" stroke-width="0.84"/>
<line x1="747.2" y1="94.2" x2="771.9" y2="94.2" stroke="#222" stroke-width="0.84"/>
<line x1="747.2" y1="98.4" x2="771.9" y2="98.4" stroke="#222" stroke-width="0.84"/>
<line x1="747.2" y1="102.4" x2="771.9" y2="102.4" stroke="#222" stroke-width="0.84"/>
<line x1="747.2" y1="107.2" x2="771.9" y2="107.2" stroke="#222" stroke-width="0.84"/>
<line x1="747.2" y1="111.2" x2="771.9" y2="111.2" stroke="#222" stroke-width="0.84"/>
<line x1="747.2" y1="115.4" x2="771.9" y2="115.4" stroke="#222" stroke-width="0.84"/>
<line x1="747.2" y1="119.6" x2="771.9" y2="119.6" stroke="#222" stroke-width="0.84"/>
<line x1="747.2" y1="123.7" x2="771.9" y2="123.7" stroke="#222" stroke-width="0.84"/>
<line x1="747.2" y1="127.8" x2="771.9" y2="127.8" stroke="#222" stroke-width="0.84"/>
<rect x="750.7" y="103.2" width="19.3" height="3.3" fill="#000"/>
<rect x="752.4" y="141.4" width="14.8" height="2.8" fill="#000"/>
<line x1="742.5" y1="142.8" x2="752.4" y2="142.8" stroke="#222" stroke-width="0.98"/>
<rect x="788.6" y="67.4" width="4.9" height="14.3" fill="url(#h)" stroke="#222" stroke-width="0.7"/>
<line x1="789.7" y1="81.7" x2="789.7" y2="157.5" stroke="#111" stroke-width="2.2"/>
<line x1="792.3" y1="81.7" x2="792.3" y2="157.5" stroke="#222" stroke-width="0.92" stroke-dasharray="1 0.8"/>
<line x1="802.2" y1="80.5" x2="802.2" y2="157.5" stroke="#222" stroke-width="0.84"/>
<line x1="808.3" y1="80.5" x2="808.3" y2="157.5" stroke="#222" stroke-width="0.84"/>
<line x1="793.5" y1="81.9" x2="809.5" y2="81.9" stroke="#222" stroke-width="0.84"/>
<rect x="795.5" y="81" width="6.5" height="1.8" fill="#333"/>
<rect x="778.7" y="78" width="8.6" height="3.7" fill="#000"/>
<rect x="778.7" y="126.7" width="9.3" height="3.7" fill="#000"/>
<rect x="784.4" y="113.8" width="3.4" height="9.9" fill="#000"/>
<rect x="794.3" y="116.3" width="4.2" height="7.4" fill="#000"/>
<rect x="799.2" y="118" width="3.5" height="5.7" fill="#000"/>
<rect x="801.6" y="120.4" width="5.2" height="4.2" fill="#000"/>
<rect x="803.2" y="121.7" width="1.9" height="1.5" fill="#fff"/>
<rect x="802.4" y="124.4" width="1.6" height="3.1" fill="#000"/>
<rect x="805.2" y="124.4" width="1.8" height="3.1" fill="#000"/>
<rect x="813.8" y="67.4" width="5.6" height="14.3" fill="url(#h)" stroke="#222" stroke-width="0.7"/>
<rect x="813.8" y="81.7" width="5.6" height="48.7" fill="url(#h2)" stroke="#222" stroke-width="0.7"/>
<rect x="813.8" y="130.4" width="5.6" height="27.1" fill="url(#h)" stroke="#222" stroke-width="0.7"/>
<line x1="827.3" y1="80.5" x2="827.3" y2="132" stroke="#222" stroke-width="0.84"/>
<line x1="833" y1="80.5" x2="833" y2="157.5" stroke="#222" stroke-width="0.84"/>
<line x1="819.4" y1="81.9" x2="834.5" y2="81.9" stroke="#222" stroke-width="0.84"/>
<line x1="819.4" y1="130.4" x2="834.5" y2="130.4" stroke="#222" stroke-width="0.84"/>
<rect x="819.6" y="80.7" width="7.8" height="2.6" fill="#111"/>
<rect x="819.6" y="129.2" width="7.8" height="2.6" fill="#111"/>
<rect x="809" y="99" width="4.8" height="10.4" fill="#000"/>
<rect x="819.4" y="101.5" width="6.2" height="6.6" fill="#000"/>
<rect x="825.6" y="104" width="6.7" height="4.1" fill="#000"/>
<rect x="827.6" y="142.7" width="4.7" height="3.2" fill="#000"/>
<line x1="787.3" y1="158.3" x2="808.8" y2="158.3" stroke="#222" stroke-width="1.03"/>
<line x1="813" y1="158.3" x2="834.3" y2="158.3" stroke="#222" stroke-width="1.03"/>
<rect x="794.7" y="164.2" width="26.7" height="16.4" fill="#fff" stroke="#111" stroke-width="1.5"/>
<text x="808" y="172.6" font-size="5.8" font-weight="normal" text-anchor="middle" fill="#222" stroke="#222" stroke-width="0.22">PJ.3</text>
<rect x="799.3" y="174.4" width="19.2" height="3.6" fill="#000"/>
<rect x="710.1" y="165.6" width="11" height="4.6" fill="url(#hd)" stroke="#222" stroke-width="0.7"/>
<rect x="772.6" y="165.6" width="11" height="4.6" fill="url(#hd)" stroke="#222" stroke-width="0.7"/>
<line x1="721.1" y1="166.3" x2="772.6" y2="166.3" stroke="#222" stroke-width="1.03"/>
<line x1="721.1" y1="169.6" x2="772.6" y2="169.6" stroke="#111" stroke-width="1.2"/>
<line x1="722" y1="167.8" x2="772" y2="167.8" stroke="#222" stroke-width="0.92" stroke-dasharray="0.9 0.9"/>
<rect x="742.3" y="162" width="11" height="3.6" fill="#000"/>
<rect x="768" y="160.7" width="19.3" height="2.5" fill="#000"/>
<polyline points="768,162 764,162 764,166.5" fill="none" stroke="#222" stroke-width="0.98"/>
<rect x="743.2" y="170.2" width="8.3" height="4.6" fill="#000"/>
<rect x="745" y="174.5" width="2.6" height="5.1" fill="#000"/>
<rect x="730.3" y="175.7" width="3.7" height="3.2" fill="#000"/>
<rect x="757.9" y="175.7" width="2.8" height="3.2" fill="#000"/>
<line x1="717.5" y1="179.4" x2="776.3" y2="179.4" stroke="#222" stroke-width="0.84"/>
<line x1="718.4" y1="185.8" x2="775.4" y2="185.8" stroke="#222" stroke-width="0.84"/>
<rect x="743.2" y="182.2" width="6.4" height="3.1" fill="#000"/>
<line x1="719.3" y1="171" x2="719.3" y2="186.6" stroke="#222" stroke-width="1.03"/>
<line x1="773.5" y1="171" x2="773.5" y2="186.6" stroke="#222" stroke-width="1.03"/>
<line x1="746" y1="170.5" x2="746" y2="180" stroke="#222" stroke-width="1.03"/>
<rect x="152.3" y="211.2" width="20.7" height="63.2" fill="none" stroke="#222" stroke-width="1.03"/>
<rect x="155.3" y="214.3" width="14.9" height="57.1" fill="none" stroke="#333" stroke-width="0.7"/>
<rect x="156.9" y="216" width="11.9" height="53.6" fill="none" stroke="#333" stroke-width="0.7"/>
<rect x="158.9" y="217.8" width="8.2" height="50" fill="none" stroke="#111" stroke-width="1.3"/>
<rect x="159.5" y="232.5" width="7" height="5.8" fill="#000"/>
<rect x="192.4" y="193.5" width="4.7" height="21.3" fill="url(#h)" stroke="#222" stroke-width="0.7"/>
<rect x="192.4" y="269" width="4.7" height="22.2" fill="url(#h)" stroke="#222" stroke-width="0.7"/>
<line x1="192.9" y1="214.8" x2="192.9" y2="269" stroke="#222" stroke-width="0.98"/>
<line x1="195.9" y1="214.8" x2="195.9" y2="269" stroke="#111" stroke-width="1.6"/>
<rect x="192.1" y="213.7" width="5.3" height="2.6" fill="#222"/>
<rect x="192.1" y="268.2" width="5.3" height="2.6" fill="#222"/>
<line x1="206" y1="213.5" x2="206" y2="272.5" stroke="#222" stroke-width="0.84"/>
<line x1="210.6" y1="213.5" x2="210.6" y2="291.2" stroke="#222" stroke-width="0.84"/>
<line x1="215.5" y1="213.5" x2="215.5" y2="291.2" stroke="#222" stroke-width="0.84"/>
<line x1="197.1" y1="214.8" x2="217" y2="214.8" stroke="#222" stroke-width="0.84"/>
<line x1="197.1" y1="271.2" x2="212" y2="271.2" stroke="#222" stroke-width="0.84"/>
<rect x="198" y="213.8" width="5.5" height="2" fill="#000"/>
<rect x="198" y="270.2" width="5.5" height="2" fill="#000"/>
<rect x="180.6" y="211.7" width="10.1" height="3.1" fill="#000"/>
<rect x="188.3" y="227.3" width="3.6" height="11" fill="#000"/>
<rect x="196.6" y="229" width="4.2" height="9.3" fill="#000"/>
<rect x="201.8" y="240.7" width="8.5" height="4.7" fill="#000"/>
<rect x="212.3" y="250" width="2.7" height="8.4" fill="#444"/>
<rect x="206.7" y="279.6" width="3.6" height="3.4" fill="#000"/>
<line x1="192.2" y1="291.2" x2="216.9" y2="291.2" stroke="#222" stroke-width="1.03"/>
<rect x="187.3" y="297.2" width="26.1" height="15.8" fill="#fff" stroke="#111" stroke-width="1.5"/>
<text x="200.4" y="304.4" font-size="5.8" font-weight="normal" text-anchor="middle" fill="#222" stroke="#222" stroke-width="0.22">J.2</text>
<rect x="190.8" y="306.2" width="19" height="3.8" fill="#000"/>
<line x1="144.9" y1="291.5" x2="177.4" y2="291.5" stroke="#222" stroke-width="1.03"/>
<rect x="147.7" y="297.5" width="8.5" height="6.4" fill="url(#hd)" stroke="#222" stroke-width="0.7"/>
<rect x="169.6" y="297.5" width="9.9" height="6.4" fill="url(#hd)" stroke="#222" stroke-width="0.7"/>
<rect x="156.2" y="294" width="12" height="4.2" fill="#000"/>
<rect x="157.6" y="298.2" width="10.6" height="4.6" fill="#fff" stroke="#222" stroke-width="0.92"/>
<rect x="156" y="303.6" width="12.2" height="7.8" fill="#000"/>
<rect x="159.8" y="307.6" width="2.8" height="2.6" fill="#fff"/>
<rect x="165.2" y="305.2" width="1.4" height="4.3" fill="#fff"/>
<line x1="155.5" y1="304" x2="155.5" y2="319.4" stroke="#222" stroke-width="0.92"/>
<line x1="170.3" y1="304" x2="170.3" y2="319.4" stroke="#222" stroke-width="0.92"/>
<line x1="154.5" y1="311.7" x2="171.5" y2="311.7" stroke="#222" stroke-width="0.84"/>
<line x1="155.5" y1="318.7" x2="170.3" y2="318.7" stroke="#222" stroke-width="0.84"/>
<rect x="161.8" y="314.5" width="2.9" height="2.8" fill="#000"/>
<rect x="240.6" y="213.6" width="32.8" height="27" fill="none" stroke="#222" stroke-width="1.03"/>
<rect x="242.7" y="215.8" width="28.6" height="22.6" fill="none" stroke="#333" stroke-width="0.7"/>
<rect x="244.3" y="217.3" width="25.4" height="19.6" fill="none" stroke="#333" stroke-width="0.7"/>
<rect x="245.9" y="218.7" width="22.2" height="16.6" fill="none" stroke="#111" stroke-width="1.3"/>
<rect x="247" y="225.7" width="20" height="3.2" fill="#000"/>
<rect x="240.3" y="256" width="32.9" height="60.2" fill="none" stroke="#222" stroke-width="1.03"/>
<rect x="242.2" y="258.1" width="29" height="56.1" fill="none" stroke="#333" stroke-width="0.7"/>
<rect x="244" y="260.3" width="25.2" height="51.9" fill="none" stroke="#333" stroke-width="0.7"/>
<rect x="248.9" y="264.9" width="14.9" height="40.5" fill="none" stroke="#111" stroke-width="1.3"/>
<rect x="250" y="274.3" width="12.6" height="4.9" fill="#000"/>
<polygon points="253.5,266 259,266 261.5,274.3 251,274.3" fill="none" stroke="#222" stroke-width="0.84"/>
<polyline points="244.9,311.6 256.2,260.8 267.8,311.6" fill="none" stroke="#222" stroke-width="0.84"/>
<rect x="287.6" y="203.5" width="5.8" height="12.7" fill="url(#h)" stroke="#222" stroke-width="0.7"/>
<rect x="287.6" y="237" width="5.8" height="20.5" fill="url(#h)" stroke="#222" stroke-width="0.7"/>
<rect x="287.6" y="312.2" width="5.8" height="21.6" fill="url(#h)" stroke="#222" stroke-width="0.7"/>
<line x1="288.1" y1="216.2" x2="288.1" y2="237" stroke="#222" stroke-width="0.98"/>
<line x1="292.1" y1="216.2" x2="292.1" y2="237" stroke="#111" stroke-width="1.6"/>
<line x1="288.1" y1="257.5" x2="288.1" y2="312.2" stroke="#222" stroke-width="0.98"/>
<line x1="292.1" y1="257.5" x2="292.1" y2="312.2" stroke="#111" stroke-width="1.8"/>
<rect x="287.3" y="215.1" width="6.4" height="2.6" fill="#222"/>
<rect x="287.3" y="235.5" width="6.4" height="2.6" fill="#222"/>
<rect x="287.3" y="256.3" width="6.4" height="2.6" fill="#222"/>
<rect x="287.3" y="310.7" width="6.4" height="2.6" fill="#222"/>
<line x1="299.9" y1="215" x2="299.9" y2="238.5" stroke="#222" stroke-width="0.84"/>
<line x1="305.8" y1="215" x2="305.8" y2="333.8" stroke="#222" stroke-width="0.84"/>
<line x1="301.6" y1="256" x2="301.6" y2="314" stroke="#222" stroke-width="0.84"/>
<line x1="311.3" y1="256" x2="311.3" y2="333.8" stroke="#222" stroke-width="0.84"/>
<line x1="293.4" y1="216.4" x2="307" y2="216.4" stroke="#222" stroke-width="0.84"/>
<line x1="293.4" y1="237" x2="307" y2="237" stroke="#222" stroke-width="0.84"/>
<line x1="293.4" y1="257.8" x2="312.5" y2="257.8" stroke="#222" stroke-width="0.84"/>
<line x1="293.4" y1="312.4" x2="307" y2="312.4" stroke="#222" stroke-width="0.84"/>
<rect x="294" y="215.4" width="5" height="2" fill="#000"/>
<rect x="294" y="236" width="5" height="2" fill="#000"/>
<rect x="294" y="256.8" width="6" height="2" fill="#000"/>
<rect x="294" y="311.4" width="6" height="2" fill="#000"/>
<rect x="297.8" y="225.7" width="3.2" height="4.3" fill="#000"/>
<rect x="301.6" y="225.7" width="4.2" height="4.3" fill="#000"/>
<rect x="302" y="245.8" width="3.8" height="3.9" fill="#000"/>
<rect x="276.6" y="255.4" width="10.6" height="2.7" fill="#000"/>
<rect x="282.7" y="270.3" width="4.6" height="10.7" fill="#000"/>
<rect x="292.7" y="272" width="4.3" height="7" fill="#000"/>
<rect x="297" y="283.8" width="8.7" height="5.4" fill="#000"/>
<rect x="307.5" y="293" width="3" height="7" fill="#444"/>
<rect x="301.6" y="322.4" width="4.1" height="3.8" fill="#000"/>
<line x1="285.4" y1="333.8" x2="312.4" y2="333.8" stroke="#222" stroke-width="1.03"/>
<rect x="283" y="340.2" width="27.2" height="16.2" fill="#fff" stroke="#111" stroke-width="1.5"/>
<text x="296.6" y="348.3" font-size="5.8" font-weight="normal" text-anchor="middle" fill="#222" stroke="#222" stroke-width="0.22">J.3</text>
<rect x="286" y="349.3" width="20.8" height="3.5" fill="#000"/>
<line x1="238" y1="333.8" x2="274.6" y2="333.8" stroke="#222" stroke-width="1.03"/>
<rect x="234" y="341.4" width="10.9" height="5.4" fill="url(#hd)" stroke="#222" stroke-width="0.7"/>
<rect x="270.5" y="341.4" width="9.5" height="5.4" fill="url(#hd)" stroke="#222" stroke-width="0.7"/>
<line x1="244.9" y1="342" x2="270.5" y2="342" stroke="#222" stroke-width="1.03"/>
<line x1="244.9" y1="346.3" x2="270.5" y2="346.3" stroke="#111" stroke-width="1.1"/>
<rect x="246.5" y="343" width="22.5" height="2.3" fill="none" stroke="#222" stroke-width="0.7"/>
<rect x="251" y="337.8" width="11.4" height="3.6" fill="#000"/>
<rect x="252" y="346.8" width="9" height="2.7" fill="#000"/>
<rect x="254.5" y="349" width="4.5" height="4.4" fill="#000"/>
<line x1="240.3" y1="352.7" x2="274.5" y2="352.7" stroke="#222" stroke-width="0.84"/>
<line x1="243" y1="359" x2="271" y2="359" stroke="#222" stroke-width="0.84"/>
<line x1="243.4" y1="347.5" x2="243.4" y2="359.8" stroke="#222" stroke-width="0.92"/>
<line x1="270.8" y1="347.5" x2="270.8" y2="359.8" stroke="#222" stroke-width="0.92"/>
<line x1="245.3" y1="348" x2="245.3" y2="353.5" stroke="#222" stroke-width="0.92"/>
<line x1="268.6" y1="348" x2="268.6" y2="353.5" stroke="#222" stroke-width="0.92"/>
<rect x="254.3" y="355.6" width="5.3" height="2" fill="#333"/>
<rect x="362" y="200.2" width="35.5" height="26.2" fill="none" stroke="#222" stroke-width="1.03"/>
<rect x="363.6" y="202.1" width="32.2" height="22.4" fill="none" stroke="#333" stroke-width="0.7"/>
<rect x="365.2" y="203.6" width="29.1" height="19.4" fill="none" stroke="#333" stroke-width="0.7"/>
<rect x="367.2" y="205.3" width="25.5" height="16.1" fill="none" stroke="#111" stroke-width="1.2"/>
<rect x="370.4" y="212.2" width="18.6" height="3.6" fill="#000"/>
<rect x="362.1" y="242.2" width="35.5" height="78.3" fill="none" stroke="#222" stroke-width="1.03"/>
<rect x="363.9" y="244" width="31.9" height="76.5" fill="none" stroke="#333" stroke-width="0.7"/>
<rect x="365.7" y="245.8" width="28.6" height="74.7" fill="none" stroke="#333" stroke-width="0.7"/>
<rect x="370.3" y="251.1" width="19.7" height="35.8" fill="none" stroke="#222" stroke-width="0.92"/>
<rect x="370.3" y="290.9" width="19.7" height="23.5" fill="none" stroke="#222" stroke-width="0.92"/>
<polyline points="393.4,246.2 366.5,283.1 393.4,319.6" fill="none" stroke="#222" stroke-width="0.84"/>
<line x1="354.9" y1="320.5" x2="405.9" y2="320.5" stroke="#222" stroke-width="1"/>
<rect x="412.4" y="191" width="6.3" height="11.7" fill="url(#h)" stroke="#222" stroke-width="0.7"/>
<rect x="412.4" y="222.2" width="6.3" height="21.8" fill="url(#h)" stroke="#222" stroke-width="0.7"/>
<line x1="412.9" y1="202.7" x2="412.9" y2="222.2" stroke="#222" stroke-width="0.98"/>
<line x1="417.3" y1="202.7" x2="417.3" y2="222.2" stroke="#111" stroke-width="1.6"/>
<rect x="412.1" y="201.7" width="6.9" height="2.6" fill="#222"/>
<rect x="412.1" y="220.7" width="6.9" height="2.6" fill="#222"/>
<rect x="412.1" y="242.7" width="6.9" height="2.6" fill="#222"/>
<line x1="413.6" y1="244" x2="413.6" y2="320.5" stroke="#111" stroke-width="2"/>
<line x1="418.4" y1="244" x2="418.4" y2="320.5" stroke="#222" stroke-width="0.84"/>
<line x1="426.5" y1="201.5" x2="426.5" y2="320.5" stroke="#222" stroke-width="0.84"/>
<line x1="432" y1="201.5" x2="432" y2="320.5" stroke="#222" stroke-width="0.84"/>
<line x1="418.7" y1="203" x2="433" y2="203" stroke="#222" stroke-width="0.84"/>
<line x1="418.7" y1="222.4" x2="433" y2="222.4" stroke="#222" stroke-width="0.84"/>
<line x1="418.7" y1="244.4" x2="433" y2="244.4" stroke="#222" stroke-width="0.84"/>
<rect x="419.5" y="202" width="5.5" height="2.2" fill="#000"/>
<rect x="419.5" y="221.4" width="5.5" height="2" fill="#000"/>
<rect x="419.5" y="243.4" width="4.5" height="2" fill="#000"/>
<rect x="423.4" y="211.2" width="3.2" height="3.2" fill="#000"/>
<rect x="427.6" y="211.2" width="3.8" height="3.2" fill="#000"/>
<rect x="428" y="233" width="2.8" height="2.6" fill="#000"/>
<rect x="403.3" y="240.8" width="9.1" height="3.2" fill="#000"/>
<rect x="408" y="272.5" width="4.8" height="12.9" fill="#000"/>
<rect x="418.6" y="273.6" width="2.6" height="9.4" fill="#000"/>
<rect x="423.3" y="279.5" width="8.3" height="7.1" fill="#000"/>
<line x1="410.8" y1="320.5" x2="435.5" y2="320.5" stroke="#222" stroke-width="1.03"/>
<rect x="355.1" y="327.6" width="9.2" height="6" fill="url(#hd)" stroke="#222" stroke-width="0.7"/>
<rect x="395" y="327.6" width="10.1" height="6" fill="url(#hd)" stroke="#222" stroke-width="0.7"/>
<line x1="364.3" y1="328.6" x2="395" y2="328.6" stroke="#222" stroke-width="1.03"/>
<line x1="364.3" y1="333.2" x2="395" y2="333.2" stroke="#111" stroke-width="1.1"/>
<line x1="365" y1="330.4" x2="394.5" y2="330.4" stroke="#222" stroke-width="1.03" stroke-dasharray="0.9 0.9"/>
<rect x="373.9" y="323.9" width="11" height="4.4" fill="#000"/>
<rect x="374.8" y="333.6" width="10.1" height="2.8" fill="#000"/>
<rect x="377.6" y="336.2" width="4.6" height="2.9" fill="#000"/>
<line x1="361.5" y1="340.8" x2="398.5" y2="340.8" stroke="#222" stroke-width="0.84"/>
<line x1="363" y1="346.4" x2="396.5" y2="346.4" stroke="#222" stroke-width="0.84"/>
<line x1="364.3" y1="334.5" x2="364.3" y2="347.2" stroke="#222" stroke-width="0.92"/>
<line x1="395" y1="334.5" x2="395" y2="347.2" stroke="#222" stroke-width="0.92"/>
<rect x="363.6" y="335.4" width="1.8" height="2.8" fill="#000"/>
<rect x="394" y="335.4" width="1.8" height="2.8" fill="#000"/>
<rect x="377.6" y="342.6" width="4.6" height="2.8" fill="#444"/>
<rect x="367" y="351.2" width="26" height="15.8" fill="#fff" stroke="#111" stroke-width="1.5"/>
<text x="380" y="359.9" font-size="6.8" font-weight="bold" text-anchor="middle" fill="#222" stroke="#222" stroke-width="0.3">P.1</text>
<rect x="370.2" y="361" width="18.9" height="3.4" fill="#000"/>
<rect x="458" y="200.2" width="35" height="26.2" fill="none" stroke="#222" stroke-width="1.03"/>
<rect x="459.6" y="202.1" width="31.8" height="22.4" fill="none" stroke="#333" stroke-width="0.7"/>
<rect x="461.2" y="203.6" width="28.6" height="19.4" fill="none" stroke="#333" stroke-width="0.7"/>
<rect x="462.9" y="205.3" width="25.4" height="16.1" fill="none" stroke="#111" stroke-width="1.2"/>
<rect x="465.4" y="212.2" width="18.6" height="3.6" fill="#000"/>
<rect x="458" y="242.2" width="35.3" height="78.3" fill="none" stroke="#222" stroke-width="1.03"/>
<rect x="459.8" y="244" width="31.7" height="76.5" fill="none" stroke="#333" stroke-width="0.7"/>
<rect x="462" y="245.8" width="27.3" height="74.7" fill="none" stroke="#333" stroke-width="0.7"/>
<rect x="467.2" y="251.3" width="17" height="34.7" fill="none" stroke="#111" stroke-width="1.4"/>
<rect x="467" y="290.9" width="17.9" height="22.8" fill="none" stroke="#222" stroke-width="0.92"/>
<rect x="469.3" y="261.8" width="8.9" height="3.4" fill="#000"/>
<polyline points="463.2,246.2 487.8,283.1 464.1,319.6" fill="none" stroke="#222" stroke-width="0.84"/>
<line x1="451.5" y1="320.5" x2="500.9" y2="320.5" stroke="#222" stroke-width="1"/>
<rect x="508.6" y="191" width="6" height="11.7" fill="url(#h)" stroke="#222" stroke-width="0.7"/>
<rect x="508.6" y="222.2" width="6" height="21.8" fill="url(#h)" stroke="#222" stroke-width="0.7"/>
<line x1="509.1" y1="202.7" x2="509.1" y2="222.2" stroke="#222" stroke-width="0.98"/>
<line x1="513.2" y1="202.7" x2="513.2" y2="222.2" stroke="#111" stroke-width="1.6"/>
<rect x="508.3" y="201.7" width="6.6" height="2.6" fill="#222"/>
<rect x="508.3" y="220.7" width="6.6" height="2.6" fill="#222"/>
<rect x="508.3" y="242.7" width="6.6" height="2.6" fill="#222"/>
<line x1="513.4" y1="244" x2="513.4" y2="320.5" stroke="#111" stroke-width="2"/>
<line x1="509.3" y1="244" x2="509.3" y2="320.5" stroke="#222" stroke-width="0.84"/>
<line x1="521.7" y1="201.5" x2="521.7" y2="320.5" stroke="#222" stroke-width="0.84"/>
<line x1="527.3" y1="201.5" x2="527.3" y2="320.5" stroke="#222" stroke-width="0.84"/>
<line x1="514.6" y1="203" x2="528.5" y2="203" stroke="#222" stroke-width="0.84"/>
<line x1="514.6" y1="222.4" x2="528.5" y2="222.4" stroke="#222" stroke-width="0.84"/>
<line x1="514.6" y1="244.4" x2="528.5" y2="244.4" stroke="#222" stroke-width="0.84"/>
<rect x="515.3" y="202" width="5.5" height="2.2" fill="#000"/>
<rect x="515.3" y="221.4" width="5.5" height="2" fill="#000"/>
<rect x="515.3" y="243.4" width="4.7" height="2" fill="#000"/>
<rect x="518.4" y="212.2" width="8.5" height="2.8" fill="#000"/>
<rect x="523.3" y="233" width="3.6" height="2.6" fill="#000"/>
<rect x="499" y="241.3" width="9.9" height="2.9" fill="#000"/>
<rect x="505.3" y="272.5" width="3.3" height="12.9" fill="#000"/>
<rect x="514.4" y="273.6" width="3.4" height="9.4" fill="#000"/>
<rect x="517.8" y="280" width="8.8" height="6.6" fill="#000"/>
<line x1="506.5" y1="320.5" x2="531" y2="320.5" stroke="#222" stroke-width="1.03"/>
<rect x="452" y="327.6" width="10.1" height="6" fill="url(#hd)" stroke="#222" stroke-width="0.7"/>
<rect x="490.6" y="327.6" width="9.2" height="6" fill="url(#hd)" stroke="#222" stroke-width="0.7"/>
<line x1="462.1" y1="328.6" x2="490.6" y2="328.6" stroke="#222" stroke-width="1.03"/>
<line x1="462.1" y1="333.2" x2="490.6" y2="333.2" stroke="#111" stroke-width="1.1"/>
<line x1="463" y1="330.4" x2="490" y2="330.4" stroke="#222" stroke-width="1.03" stroke-dasharray="0.9 0.9"/>
<rect x="467.6" y="323.9" width="12" height="4.4" fill="#000"/>
<rect x="469.5" y="333.6" width="9.2" height="2.8" fill="#000"/>
<rect x="472.2" y="336.2" width="4.6" height="2.9" fill="#000"/>
<line x1="458" y1="340.8" x2="494.5" y2="340.8" stroke="#222" stroke-width="0.84"/>
<line x1="460" y1="346.4" x2="492.6" y2="346.4" stroke="#222" stroke-width="0.84"/>
<line x1="461.2" y1="334.5" x2="461.2" y2="347.2" stroke="#222" stroke-width="0.92"/>
<line x1="491" y1="334.5" x2="491" y2="347.2" stroke="#222" stroke-width="0.92"/>
<rect x="460.4" y="335.4" width="1.8" height="2.8" fill="#000"/>
<rect x="490" y="335.4" width="1.8" height="2.8" fill="#000"/>
<rect x="472.2" y="342.6" width="4.8" height="2.8" fill="#444"/>
<rect x="462.8" y="351.2" width="25.8" height="15.8" fill="#fff" stroke="#111" stroke-width="1.5"/>
<text x="475.7" y="359.9" font-size="6.8" font-weight="bold" text-anchor="middle" fill="#222" stroke="#222" stroke-width="0.3">P.2</text>
<rect x="465.7" y="361" width="19" height="3.4" fill="#000"/>
<rect x="552.7" y="242.2" width="32.9" height="77.6" fill="none" stroke="#222" stroke-width="1.03"/>
<rect x="554.3" y="243.9" width="29.7" height="75.9" fill="none" stroke="#333" stroke-width="0.7"/>
<rect x="556.5" y="245.7" width="25.3" height="74.1" fill="none" stroke="#333" stroke-width="0.7"/>
<rect x="561" y="251.1" width="16.8" height="34.9" fill="none" stroke="#222" stroke-width="0.92"/>
<rect x="561" y="290.9" width="16.8" height="22.8" fill="none" stroke="#222" stroke-width="0.92"/>
<polyline points="580.5,246.2 556.8,282.4 580.5,319.4" fill="none" stroke="#222" stroke-width="0.84"/>
<line x1="544.4" y1="319.8" x2="591.4" y2="319.8" stroke="#222" stroke-width="1"/>
<rect x="599.6" y="223.3" width="6" height="19.9" fill="url(#h)" stroke="#222" stroke-width="0.7"/>
<rect x="599.3" y="242.3" width="6.6" height="2.6" fill="#222"/>
<line x1="604.5" y1="243.2" x2="604.5" y2="319.5" stroke="#111" stroke-width="1.8"/>
<line x1="601.2" y1="243.2" x2="601.2" y2="319.5" stroke="#222" stroke-width="1.1" stroke-dasharray="1 0.8"/>
<line x1="613" y1="242" x2="613" y2="319.5" stroke="#222" stroke-width="0.84"/>
<line x1="619.5" y1="242" x2="619.5" y2="319.5" stroke="#222" stroke-width="0.84"/>
<line x1="605.7" y1="244" x2="621" y2="244" stroke="#222" stroke-width="0.84"/>
<rect x="606.5" y="243" width="5.5" height="2.2" fill="#000"/>
<rect x="589" y="240.7" width="11" height="3.9" fill="#000"/>
<rect x="595.3" y="272.6" width="4.6" height="13.6" fill="#000"/>
<rect x="605.3" y="274.5" width="3.5" height="8.1" fill="#000"/>
<rect x="608.8" y="279.3" width="10" height="7.3" fill="#000"/>
<line x1="595" y1="319.8" x2="623.3" y2="319.8" stroke="#222" stroke-width="1.03"/>
<rect x="545.9" y="327.7" width="9.7" height="6.3" fill="url(#hd)" stroke="#222" stroke-width="0.7"/>
<rect x="582" y="327.7" width="9.8" height="6.3" fill="url(#hd)" stroke="#222" stroke-width="0.7"/>
<line x1="555.6" y1="328.6" x2="582" y2="328.6" stroke="#222" stroke-width="1.03"/>
<line x1="555.6" y1="333.4" x2="582" y2="333.4" stroke="#111" stroke-width="1.1"/>
<line x1="556.5" y1="330.6" x2="581.5" y2="330.6" stroke="#222" stroke-width="1.03" stroke-dasharray="0.9 0.9"/>
<rect x="563.4" y="324.2" width="11.4" height="4.1" fill="#000"/>
<rect x="564.4" y="334" width="8.8" height="2.5" fill="#000"/>
<rect x="566.4" y="336.3" width="4.9" height="3.1" fill="#000"/>
<line x1="553" y1="341" x2="585.5" y2="341" stroke="#222" stroke-width="0.84"/>
<line x1="554.6" y1="346.9" x2="583" y2="346.9" stroke="#222" stroke-width="0.84"/>
<line x1="555.6" y1="334.8" x2="555.6" y2="347.7" stroke="#222" stroke-width="0.92"/>
<line x1="582" y1="334.8" x2="582" y2="347.7" stroke="#222" stroke-width="0.92"/>
<rect x="554.7" y="335.6" width="1.8" height="2.8" fill="#000"/>
<rect x="581.1" y="335.6" width="1.8" height="2.8" fill="#000"/>
<rect x="566.2" y="343" width="4.8" height="2.8" fill="#444"/>
<rect x="555.1" y="351.2" width="26.1" height="15.8" fill="#fff" stroke="#111" stroke-width="1.5"/>
<text x="568.2" y="359.9" font-size="6.8" font-weight="bold" text-anchor="middle" fill="#222" stroke="#222" stroke-width="0.3">P.3</text>
<rect x="558.2" y="361" width="19.9" height="3.4" fill="#000"/>
<rect x="663.5" y="224.5" width="29.7" height="95.3" fill="none" stroke="#222" stroke-width="1.03"/>
<rect x="665.4" y="226.4" width="25.8" height="93.4" fill="none" stroke="#333" stroke-width="0.7"/>
<rect x="667.6" y="229.9" width="20.2" height="12.1" fill="none" stroke="#111" stroke-width="1.1"/>
<rect x="670.3" y="232.6" width="14.3" height="5.4" fill="#000"/>
<line x1="665.4" y1="244.2" x2="691.2" y2="244.2" stroke="#222" stroke-width="1.2"/>
<line x1="665.4" y1="246" x2="691.2" y2="246" stroke="#222" stroke-width="0.84"/>
<rect x="667.6" y="247.4" width="21.6" height="72.4" fill="none" stroke="#333" stroke-width="0.7"/>
<rect x="671" y="250" width="14.7" height="36.6" fill="none" stroke="#222" stroke-width="0.92"/>
<rect x="671" y="291.2" width="14.7" height="21.1" fill="none" stroke="#222" stroke-width="0.92"/>
<polyline points="687.8,247.6 667.9,281.2 687.3,319" fill="none" stroke="#222" stroke-width="0.84"/>
<line x1="657" y1="319.8" x2="700" y2="319.8" stroke="#222" stroke-width="1"/>
<rect x="707.8" y="209.6" width="6.3" height="16.2" fill="url(#h)" stroke="#222" stroke-width="0.7"/>
<rect x="707.5" y="224.7" width="6.9" height="2.6" fill="#222"/>
<rect x="707.5" y="243.1" width="6.9" height="2.6" fill="#222"/>
<line x1="709.1" y1="244.4" x2="709.1" y2="319.8" stroke="#111" stroke-width="1.8"/>
<line x1="713.4" y1="244.4" x2="713.4" y2="319.8" stroke="#222" stroke-width="0.84"/>
<line x1="708.3" y1="225.8" x2="708.3" y2="244.4" stroke="#222" stroke-width="0.98"/>
<line x1="713" y1="225.8" x2="713" y2="244.4" stroke="#111" stroke-width="1.6"/>
<line x1="722" y1="224.5" x2="722" y2="319.8" stroke="#222" stroke-width="0.84"/>
<line x1="726.8" y1="224.5" x2="726.8" y2="319.8" stroke="#222" stroke-width="0.84"/>
<line x1="714.1" y1="225.8" x2="728.5" y2="225.8" stroke="#222" stroke-width="0.84"/>
<line x1="714.1" y1="244.7" x2="723" y2="244.7" stroke="#222" stroke-width="0.84"/>
<rect x="715" y="224.8" width="5" height="2" fill="#000"/>
<rect x="715" y="243.7" width="5" height="2" fill="#000"/>
<rect x="698" y="240.9" width="10.2" height="3.8" fill="#000"/>
<rect x="718" y="233" width="4" height="4.4" fill="#000"/>
<rect x="703.2" y="272.6" width="5" height="13.3" fill="#000"/>
<rect x="714.1" y="274" width="4.4" height="10.4" fill="#000"/>
<rect x="718" y="280" width="4" height="5.9" fill="#000"/>
<rect x="723.2" y="271" width="3.4" height="6" fill="#444"/>
<line x1="705" y1="320" x2="729" y2="320" stroke="#222" stroke-width="1.03"/>
<rect x="656.8" y="327.7" width="10.2" height="6.3" fill="url(#hd)" stroke="#222" stroke-width="0.7"/>
<rect x="690.4" y="327.7" width="9.8" height="6.3" fill="url(#hd)" stroke="#222" stroke-width="0.7"/>
<line x1="667" y1="328.6" x2="690.4" y2="328.6" stroke="#222" stroke-width="1.03"/>
<line x1="667" y1="333.4" x2="690.4" y2="333.4" stroke="#111" stroke-width="1.1"/>
<line x1="668" y1="330.6" x2="690" y2="330.6" stroke="#222" stroke-width="1.03" stroke-dasharray="0.9 0.9"/>
<rect x="669.9" y="324.2" width="10.7" height="4.1" fill="#000"/>
<rect x="668.9" y="333.6" width="8.8" height="2.9" fill="#000"/>
<rect x="668.9" y="336.3" width="3.9" height="2.3" fill="#000"/>
<line x1="664" y1="341" x2="694.5" y2="341" stroke="#222" stroke-width="0.84"/>
<line x1="666" y1="346.9" x2="691.8" y2="346.9" stroke="#222" stroke-width="0.84"/>
<line x1="667" y1="334.8" x2="667" y2="347.7" stroke="#222" stroke-width="0.92"/>
<line x1="690.4" y1="334.8" x2="690.4" y2="347.7" stroke="#222" stroke-width="0.92"/>
<rect x="666.1" y="335.6" width="1.8" height="2.8" fill="#000"/>
<rect x="689.5" y="335.6" width="1.8" height="2.8" fill="#000"/>
<rect x="676" y="343" width="4.8" height="2.8" fill="#444"/>
<rect x="664.1" y="351.2" width="25.2" height="15.8" fill="#fff" stroke="#111" stroke-width="1.5"/>
<text x="676.7" y="359.9" font-size="6.8" font-weight="bold" text-anchor="middle" fill="#222" stroke="#222" stroke-width="0.3">P.4</text>
<rect x="666.7" y="361" width="19.5" height="3.4" fill="#000"/>
<rect x="750.3" y="200.9" width="60" height="24.9" fill="none" stroke="#222" stroke-width="1.03"/>
<rect x="752.2" y="202.5" width="56.2" height="21.4" fill="none" stroke="#333" stroke-width="0.7"/>
<rect x="755" y="205.3" width="23.5" height="15.3" fill="none" stroke="#111" stroke-width="1.2"/>
<rect x="781.6" y="205.3" width="24" height="15.3" fill="none" stroke="#111" stroke-width="1.2"/>
<rect x="758" y="211.2" width="18.9" height="3.5" fill="#000"/>
<rect x="784.4" y="211.2" width="18.8" height="3.5" fill="#000"/>
<rect x="750.3" y="242.2" width="60" height="60" fill="none" stroke="#222" stroke-width="1.03"/>
<rect x="752.2" y="244.1" width="56.2" height="55.9" fill="none" stroke="#333" stroke-width="0.7"/>
<rect x="755" y="246" width="24.7" height="51" fill="none" stroke="#222" stroke-width="0.92"/>
<rect x="781.6" y="246" width="25.2" height="51" fill="none" stroke="#222" stroke-width="0.92"/>
<line x1="780.6" y1="244.1" x2="780.6" y2="300" stroke="#222" stroke-width="0.98"/>
<rect x="758.2" y="251.2" width="16.8" height="41.1" fill="none" stroke="#111" stroke-width="1.3"/>
<polygon points="762.2,260.4 771.4,260.4 772,264.1 761.6,264.1" fill="#000" stroke="#222" stroke-width="0.56"/>
<polygon points="764.4,254 769.2,254 771.6,260.6 762,260.6" fill="none" stroke="#222" stroke-width="0.84"/>
<rect x="785.9" y="251.2" width="16.9" height="41.1" fill="none" stroke="#111" stroke-width="1.3"/>
<polygon points="789.7,260.4 798.9,260.4 799.5,264.1 789.1,264.1" fill="#000" stroke="#222" stroke-width="0.56"/>
<polygon points="791.9,254 796.7,254 799.1,260.6 789.5,260.6" fill="none" stroke="#222" stroke-width="0.84"/>
<polyline points="755.2,296.7 767,247.3 778.9,296.7" fill="none" stroke="#222" stroke-width="0.84"/>
<polyline points="782,296.7 794.4,247.3 806.2,296.7" fill="none" stroke="#222" stroke-width="0.84"/>
<rect x="825.6" y="191.2" width="5.6" height="10.6" fill="url(#h)" stroke="#222" stroke-width="0.7"/>
<rect x="825.6" y="223" width="5.6" height="21" fill="url(#h)" stroke="#222" stroke-width="0.7"/>
<rect x="825.6" y="299.4" width="5.6" height="20.5" fill="url(#h)" stroke="#222" stroke-width="0.7"/>
<line x1="826.1" y1="201.8" x2="826.1" y2="223" stroke="#222" stroke-width="0.98"/>
<line x1="829.9" y1="201.8" x2="829.9" y2="223" stroke="#111" stroke-width="1.6"/>
<line x1="826.1" y1="244" x2="826.1" y2="299.4" stroke="#222" stroke-width="0.98"/>
<line x1="829.9" y1="244" x2="829.9" y2="299.4" stroke="#111" stroke-width="1.8"/>
<rect x="825.3" y="200.7" width="6.2" height="2.6" fill="#222"/>
<rect x="825.3" y="221.5" width="6.2" height="2.6" fill="#222"/>
<rect x="825.3" y="242.7" width="6.2" height="2.6" fill="#222"/>
<rect x="825.3" y="298.1" width="6.2" height="2.6" fill="#222"/>
<line x1="838.5" y1="200.5" x2="838.5" y2="224.5" stroke="#222" stroke-width="0.84"/>
<line x1="844.4" y1="200.5" x2="844.4" y2="319.9" stroke="#222" stroke-width="0.84"/>
<line x1="838.5" y1="243" x2="838.5" y2="301" stroke="#222" stroke-width="0.84"/>
<line x1="849.8" y1="243" x2="849.8" y2="319.9" stroke="#222" stroke-width="0.84"/>
<line x1="831.2" y1="202.2" x2="846" y2="202.2" stroke="#222" stroke-width="0.84"/>
<line x1="831.2" y1="223" x2="846" y2="223" stroke="#222" stroke-width="0.84"/>
<line x1="831.2" y1="244.4" x2="851" y2="244.4" stroke="#222" stroke-width="0.84"/>
<line x1="831.2" y1="299.6" x2="846" y2="299.6" stroke="#222" stroke-width="0.84"/>
<rect x="832" y="201.2" width="5.5" height="2.2" fill="#000"/>
<rect x="832" y="222" width="5.5" height="2.2" fill="#000"/>
<rect x="832" y="243.4" width="6" height="2.2" fill="#000"/>
<rect x="832" y="298.6" width="6" height="2.2" fill="#000"/>
<rect x="835" y="211.6" width="8.7" height="3.1" fill="#000"/>
<rect x="840.4" y="232.8" width="3.3" height="3.1" fill="#000"/>
<rect x="815" y="241.3" width="10.6" height="3.3" fill="#000"/>
<rect x="821.6" y="257" width="3.8" height="10.6" fill="#000"/>
<rect x="829.4" y="257" width="4" height="9.5" fill="#000"/>
<rect x="835" y="270.5" width="8.7" height="4.2" fill="#000"/>
<rect x="845.6" y="279.4" width="3.8" height="7.1" fill="#000"/>
<rect x="840.4" y="308.8" width="3.3" height="3.6" fill="#000"/>
<line x1="820.9" y1="319.9" x2="850.3" y2="319.9" stroke="#222" stroke-width="1.03"/>
<rect x="821.6" y="326.5" width="25.9" height="15.3" fill="#fff" stroke="#111" stroke-width="1.5"/>
<text x="834.5" y="335" font-size="7" font-weight="bold" text-anchor="middle" fill="#222" stroke="#222" stroke-width="0.3">J.1</text>
<rect x="824.4" y="336.4" width="20" height="3.2" fill="#000"/>
<line x1="748.6" y1="319.9" x2="811.5" y2="319.9" stroke="#222" stroke-width="1.03"/>
<rect x="744" y="327.6" width="9.8" height="5.9" fill="url(#hd)" stroke="#222" stroke-width="0.7"/>
<rect x="806.8" y="327.6" width="10.6" height="5.9" fill="url(#hd)" stroke="#222" stroke-width="0.7"/>
<line x1="753.8" y1="328.6" x2="806.8" y2="328.6" stroke="#222" stroke-width="1.03"/>
<line x1="753.8" y1="332.6" x2="806.8" y2="332.6" stroke="#111" stroke-width="1.2"/>
<rect x="756" y="329.6" width="22" height="2" fill="none" stroke="#222" stroke-width="0.7"/>
<rect x="783" y="329.6" width="22" height="2" fill="none" stroke="#222" stroke-width="0.7"/>
<rect x="774.5" y="324.6" width="11.1" height="3.8" fill="#000"/>
<rect x="776.9" y="332.4" width="7.1" height="4.6" fill="#000"/>
<rect x="779.2" y="336.6" width="2.4" height="7.6" fill="#000"/>
<rect x="765" y="337.8" width="3.4" height="2.8" fill="#000"/>
<rect x="792.2" y="337.8" width="3.3" height="2.8" fill="#000"/>
<line x1="751.5" y1="340.8" x2="811" y2="340.8" stroke="#222" stroke-width="0.84"/>
<line x1="752.6" y1="345.8" x2="810" y2="345.8" stroke="#222" stroke-width="0.84"/>
<line x1="753.8" y1="334" x2="753.8" y2="346.6" stroke="#222" stroke-width="0.92"/>
<line x1="808.6" y1="334" x2="808.6" y2="346.6" stroke="#222" stroke-width="0.92"/>
<line x1="755.8" y1="334.5" x2="755.8" y2="341.5" stroke="#222" stroke-width="0.92"/>
<line x1="806.4" y1="334.5" x2="806.4" y2="341.5" stroke="#222" stroke-width="0.92"/>
<rect x="777.5" y="343.6" width="6" height="2.2" fill="#222"/>
<line x1="48.3" y1="199.1" x2="72.3" y2="199.1" stroke="#222" stroke-width="0.92"/>
<line x1="72.3" y1="199.1" x2="72.3" y2="222.8" stroke="#222" stroke-width="0.92"/>
<line x1="48.3" y1="199.1" x2="20.5" y2="222.2" stroke="#222" stroke-width="1.0"/>
<line x1="49.8" y1="200.2" x2="22.5" y2="222.8" stroke="#222" stroke-width="0.84"/>
<line x1="51.5" y1="201.2" x2="24.5" y2="223.6" stroke="#222" stroke-width="0.84"/>
<line x1="47.4" y1="199.1" x2="20" y2="221.6" stroke="#333" stroke-width="1.6" stroke-dasharray="1.6 1"/>
<line x1="53.5" y1="202.5" x2="35" y2="217.3" stroke="#222" stroke-width="0.84"/>
<line x1="42" y1="217.3" x2="60" y2="200.5" stroke="#222" stroke-width="0.84"/>
<line x1="50" y1="217.3" x2="68" y2="201" stroke="#222" stroke-width="0.84"/>
<line x1="57" y1="217.3" x2="72" y2="204" stroke="#222" stroke-width="0.84"/>
<line x1="64" y1="217.3" x2="72.3" y2="210" stroke="#222" stroke-width="0.84"/>
<path d="M63.5 209.5 Q66.8 212.5 66.5 217" fill="none" stroke="#222" stroke-width="0.7"/>
<line x1="40.5" y1="210.8" x2="43.4" y2="217.3" stroke="#222" stroke-width="0.84"/>
<rect x="34.1" y="217.3" width="38.2" height="5.1" fill="#fff" stroke="#222" stroke-width="1.03"/>
<rect x="43.8" y="222.4" width="4.5" height="20.8" fill="url(#h)" stroke="#222" stroke-width="0.7"/>
<line x1="48.3" y1="222.4" x2="48.3" y2="340" stroke="#222" stroke-width="1.03"/>
<rect x="12.1" y="222.2" width="9.1" height="10.3" fill="none" stroke="#222" stroke-width="0.92"/>
<line x1="12.1" y1="230.4" x2="21.2" y2="230.4" stroke="#222" stroke-width="0.84"/>
<line x1="14" y1="222.2" x2="14" y2="232.5" stroke="#222" stroke-width="0.84"/>
<rect x="11" y="226" width="1.6" height="2.5" fill="#000"/>
<line x1="21.2" y1="222.2" x2="28.9" y2="229.9" stroke="#222" stroke-width="1.03"/>
<line x1="21.2" y1="222.2" x2="21.2" y2="236" stroke="#222" stroke-width="0.92"/>
<line x1="21.2" y1="230" x2="43.8" y2="230" stroke="#222" stroke-width="0.98"/>
<line x1="21.2" y1="231.9" x2="43.8" y2="231.9" stroke="#222" stroke-width="1.03"/>
<line x1="28.9" y1="229.9" x2="28.9" y2="243" stroke="#222" stroke-width="0.98"/>
<line x1="30.6" y1="232" x2="30.6" y2="243" stroke="#222" stroke-width="0.84"/>
<line x1="20.5" y1="236.6" x2="30.6" y2="236.6" stroke="#222" stroke-width="0.84"/>
<rect x="23" y="235.6" width="2.2" height="1.8" fill="#000"/>
<rect x="27" y="235.4" width="1.6" height="2" fill="#000"/>
<line x1="34" y1="232" x2="34" y2="243" stroke="#222" stroke-width="0.84"/>
<line x1="34" y1="238.4" x2="43.8" y2="238.4" stroke="#222" stroke-width="0.84"/>
<rect x="37.5" y="237.4" width="2.5" height="1.8" fill="#000"/>
<rect x="28.3" y="243.2" width="20" height="5.8" fill="url(#st)" stroke="#111" stroke-width="0.7"/>
<rect x="35.4" y="249" width="12.9" height="11.7" fill="url(#st)" stroke="#111" stroke-width="0.7"/>
<rect x="48.3" y="243.2" width="13" height="5.8" fill="#777"/>
<line x1="61.3" y1="243.2" x2="61.3" y2="255.5" stroke="#222" stroke-width="0.84"/>
<line x1="23.1" y1="243" x2="23.1" y2="270.4" stroke="#222" stroke-width="0.98"/>
<line x1="28.9" y1="243" x2="28.9" y2="270.4" stroke="#222" stroke-width="0.98"/>
<line x1="38" y1="260.7" x2="38" y2="270.4" stroke="#222" stroke-width="0.84"/>
<line x1="23.1" y1="243.2" x2="28.3" y2="243.2" stroke="#222" stroke-width="0.84"/>
<rect x="26.3" y="248" width="1.9" height="2" fill="#000"/>
<rect x="21.2" y="256.2" width="1.8" height="2" fill="#000"/>
<rect x="26.3" y="262.5" width="1.9" height="1.9" fill="#000"/>
<rect x="35.4" y="256.5" width="1.6" height="2" fill="#000"/>
<rect x="39.3" y="260.7" width="8.4" height="9.7" fill="url(#h)" stroke="#222" stroke-width="0.7"/>
<rect x="17.3" y="270.8" width="31" height="7" fill="url(#st)" stroke="#111" stroke-width="0.7"/>
<rect x="12.1" y="270.8" width="5.2" height="7" fill="none" stroke="#222" stroke-width="0.92"/>
<rect x="10" y="273.5" width="2" height="2" fill="#000"/>
<rect x="53.5" y="233.2" width="18.1" height="4.5" fill="#000"/>
<rect x="53.5" y="262.3" width="18.1" height="5.1" fill="#000"/>
<line x1="17.3" y1="277.8" x2="17.3" y2="316" stroke="#222" stroke-width="1.03"/>
<line x1="17.3" y1="284.6" x2="39.3" y2="284.6" stroke="#222" stroke-width="0.98"/>
<line x1="39.3" y1="277.8" x2="39.3" y2="293" stroke="#222" stroke-width="0.98"/>
<line x1="39.3" y1="289.2" x2="51.6" y2="289.2" stroke="#666" stroke-width="0.84"/>
<line x1="38" y1="293" x2="49.6" y2="293" stroke="#222" stroke-width="0.92"/>
<rect x="42" y="291.8" width="3" height="1.8" fill="#000"/>
<rect x="17.3" y="286.3" width="4.5" height="27.2" fill="url(#st)" stroke="#111" stroke-width="0.7"/>
<line x1="21.8" y1="296" x2="47.7" y2="296" stroke="#222" stroke-width="0.92"/>
<line x1="21.8" y1="304.4" x2="47.7" y2="304.4" stroke="#222" stroke-width="1.1"/>
<rect x="31" y="295" width="3.5" height="1.6" fill="#000"/>
<rect x="17.3" y="304.4" width="30.4" height="4.6" fill="url(#st)" stroke="#111" stroke-width="0.7"/>
<line x1="47.7" y1="296" x2="47.7" y2="309.6" stroke="#222" stroke-width="1.03"/>
<line x1="16" y1="316" x2="32.8" y2="316" stroke="#222" stroke-width="1.03"/>
<line x1="21.8" y1="309" x2="21.8" y2="313.5" stroke="#222" stroke-width="0.84"/>
<rect x="23" y="315" width="2.5" height="2" fill="#000"/>
<polygon points="32.8,306.3 36.2,306.3 41.5,312.8 39.3,314.8" fill="#111" stroke="#222" stroke-width="0.7"/>
<rect x="32.8" y="314.8" width="6.5" height="6.4" fill="url(#st)" stroke="#111" stroke-width="0.7"/>
<line x1="32.8" y1="309" x2="32.8" y2="321.2" stroke="#222" stroke-width="0.92"/>
<rect x="34.1" y="321.2" width="4.5" height="19.8" fill="none" stroke="#222" stroke-width="1.03"/>
<line x1="36.4" y1="321.2" x2="36.4" y2="341" stroke="#222" stroke-width="1.2"/>
<line x1="54.8" y1="303" x2="54.8" y2="345.3" stroke="#222" stroke-width="0.98"/>
<line x1="50.9" y1="309.6" x2="50.9" y2="345.3" stroke="#222" stroke-width="0.98"/>
<line x1="47.7" y1="309.6" x2="56.5" y2="309.6" stroke="#222" stroke-width="0.84"/>
<line x1="51" y1="303.4" x2="56.5" y2="303.4" stroke="#222" stroke-width="0.84"/>
<line x1="40.6" y1="311.5" x2="52" y2="311.5" stroke="#222" stroke-width="0.84"/>
<rect x="43" y="313" width="4" height="2.2" fill="#333"/>
<rect x="49" y="313" width="1.8" height="3" fill="#000"/>
<rect x="51.5" y="325" width="2.5" height="2.5" fill="#000"/>
<rect x="48.5" y="330" width="2.3" height="2.5" fill="#000"/>
<rect x="60" y="332.2" width="20" height="3.9" fill="#000"/>
<rect x="32.8" y="341" width="6.5" height="23.3" fill="none" stroke="#222" stroke-width="1.03"/>
<rect x="32.8" y="341" width="5.8" height="14.9" fill="url(#st)" stroke="#111" stroke-width="0.7"/>
<rect x="37.3" y="345.3" width="31.1" height="6" fill="url(#st)" stroke="#111" stroke-width="0.7"/>
<rect x="68.4" y="345.3" width="3.9" height="6" fill="none" stroke="#222" stroke-width="1.03"/>
<rect x="70" y="347" width="1.6" height="3" fill="#000"/>
<line x1="39.3" y1="354.6" x2="67.1" y2="354.6" stroke="#222" stroke-width="1.03"/>
<line x1="39.3" y1="351.3" x2="39.3" y2="364.3" stroke="#222" stroke-width="0.98"/>
<rect x="50" y="353.8" width="2.5" height="1.6" fill="#000"/>
<rect x="56.1" y="358.5" width="17.5" height="5.8" fill="#000"/>
<line x1="31.5" y1="364.3" x2="42.5" y2="364.3" stroke="#222" stroke-width="0.92"/>
<rect x="40.2" y="360.5" width="1.8" height="1.9" fill="#000"/>
<line x1="32.2" y1="369.1" x2="44.5" y2="369.1" stroke="#222" stroke-width="1.03"/>
<line x1="33.5" y1="369.1" x2="33.5" y2="412.2" stroke="#222" stroke-width="1.03"/>
<line x1="43.8" y1="369.1" x2="43.8" y2="397.3" stroke="#222" stroke-width="0.92"/>
<line x1="36.2" y1="369.1" x2="36.2" y2="376" stroke="#222" stroke-width="0.98"/>
<line x1="38.9" y1="369.1" x2="38.9" y2="412.2" stroke="#222" stroke-width="1.03"/>
<rect x="36.2" y="370" width="2.7" height="6" fill="#000"/>
<rect x="33" y="376" width="6.3" height="3.5" fill="#222"/>
<rect x="33.5" y="379.5" width="5.4" height="32.7" fill="url(#h)" stroke="#222" stroke-width="0.7"/>
<rect x="43.8" y="380.5" width="2.9" height="16.8" fill="none" stroke="#222" stroke-width="0.92"/>
<rect x="45.6" y="380" width="1.3" height="3" fill="#000"/>
<rect x="45.6" y="388" width="1.3" height="3" fill="#000"/>
<line x1="38.9" y1="397.3" x2="64.5" y2="397.3" stroke="#222" stroke-width="1.03"/>
<rect x="38.9" y="397.3" width="10.7" height="14.9" fill="none" stroke="#222" stroke-width="1.03"/>
<rect x="49.6" y="398.4" width="6.5" height="13.8" fill="url(#h)" stroke="#222" stroke-width="0.7"/>
<rect x="56.1" y="398.4" width="7.8" height="13.8" fill="none" stroke="#222" stroke-width="1.03"/>
<line x1="60" y1="398.4" x2="60" y2="412.2" stroke="#222" stroke-width="1.03"/>
<line x1="56.1" y1="403" x2="63.9" y2="403" stroke="#222" stroke-width="0.92"/>
<line x1="56.1" y1="407.6" x2="63.9" y2="407.6" stroke="#222" stroke-width="0.92"/>
<rect x="57" y="404" width="2" height="3" fill="#000"/>
<rect x="61" y="399.5" width="2" height="3" fill="#000"/>
<line x1="33.5" y1="412.4" x2="69.7" y2="412.4" stroke="#111" stroke-width="1.4"/>
<rect x="63.9" y="409.6" width="5.8" height="2.6" fill="#000"/>
<line x1="38" y1="416.7" x2="56.7" y2="416.7" stroke="#222" stroke-width="0.98"/>
<line x1="38.6" y1="413" x2="38.6" y2="417.5" stroke="#222" stroke-width="0.98"/>
<line x1="49.6" y1="413" x2="49.6" y2="417.5" stroke="#222" stroke-width="0.98"/>
<line x1="56.1" y1="413" x2="56.1" y2="417.5" stroke="#222" stroke-width="0.98"/>
<rect x="42.5" y="415.6" width="2.5" height="1.8" fill="#000"/>
<rect x="51.5" y="415.6" width="2.5" height="1.8" fill="#000"/>
<rect x="25" y="399.3" width="5.9" height="2.6" fill="#000"/>
<rect x="68.4" y="401.2" width="11.6" height="4.5" fill="#000"/>
<line x1="84.7" y1="210.1" x2="84.7" y2="278.2" stroke="#222" stroke-width="0.92"/>
<polyline points="84.7,210.1 124.6,210.1 139.7,222.3" fill="none" stroke="#222" stroke-width="0.92"/>
<line x1="113.3" y1="217.6" x2="139.7" y2="217.6" stroke="#222" stroke-width="0.98"/>
<line x1="139.7" y1="217.6" x2="139.7" y2="223" stroke="#222" stroke-width="0.98"/>
<line x1="138.7" y1="222.3" x2="132" y2="228.9" stroke="#222" stroke-width="0.84"/>
<line x1="84.7" y1="222.3" x2="138.7" y2="222.3" stroke="#222" stroke-width="0.92"/>
<line x1="84.7" y1="228.9" x2="132" y2="228.9" stroke="#222" stroke-width="0.98"/>
<line x1="84.7" y1="231.7" x2="131.2" y2="231.7" stroke="#222" stroke-width="1.03"/>
<line x1="113.3" y1="217.6" x2="113.3" y2="242" stroke="#222" stroke-width="0.98"/>
<line x1="115" y1="231.7" x2="115" y2="242" stroke="#222" stroke-width="0.84"/>
<line x1="132" y1="222.3" x2="132" y2="236" stroke="#222" stroke-width="0.98"/>
<line x1="84.7" y1="243" x2="123.7" y2="243" stroke="#222" stroke-width="0.92"/>
<line x1="84.7" y1="245.8" x2="123.7" y2="245.8" stroke="#222" stroke-width="0.92"/>
<line x1="84.7" y1="252.4" x2="123.7" y2="252.4" stroke="#111" stroke-width="1.4"/>
<line x1="131.2" y1="231.7" x2="131.2" y2="270" stroke="#222" stroke-width="0.98"/>
<line x1="123.7" y1="243" x2="123.7" y2="256" stroke="#222" stroke-width="0.92"/>
<line x1="123.7" y1="248.5" x2="131.2" y2="248.5" stroke="#222" stroke-width="0.84"/>
<line x1="123.7" y1="251" x2="131.2" y2="251" stroke="#222" stroke-width="0.84"/>
<rect x="125" y="241" width="2" height="2.5" fill="#000"/>
<rect x="126" y="246.5" width="3.5" height="2.3" fill="#000"/>
<rect x="122.5" y="254.5" width="1.7" height="2.5" fill="#000"/>
<rect x="129.5" y="260.5" width="1.9" height="2" fill="#000"/>
<rect x="140.6" y="222.3" width="6.6" height="10.4" fill="none" stroke="#222" stroke-width="0.98"/>
<line x1="140.6" y1="227.4" x2="147.2" y2="227.4" stroke="#222" stroke-width="0.84"/>
<rect x="142.5" y="226.4" width="2" height="2" fill="#000"/>
<line x1="132" y1="236" x2="140.6" y2="236" stroke="#222" stroke-width="0.84"/>
<rect x="134.5" y="235" width="2.5" height="2" fill="#000"/>
<rect x="125.5" y="216.6" width="1.8" height="1.8" fill="#000"/>
<line x1="84.7" y1="270.6" x2="112.4" y2="270.6" stroke="#111" stroke-width="1.4"/>
<line x1="112.4" y1="270.6" x2="112.4" y2="278.2" stroke="#222" stroke-width="1.03"/>
<line x1="84.7" y1="278.2" x2="112.4" y2="278.2" stroke="#111" stroke-width="1.4"/>
<line x1="121.8" y1="256" x2="121.8" y2="293.2" stroke="#222" stroke-width="0.98"/>
<line x1="131.2" y1="265" x2="131.2" y2="278.2" stroke="#222" stroke-width="0.98"/>
<line x1="121.8" y1="278.2" x2="131.2" y2="278.2" stroke="#222" stroke-width="0.98"/>
<line x1="104.8" y1="278.2" x2="104.8" y2="293.2" stroke="#222" stroke-width="0.92"/>
<line x1="101" y1="289.1" x2="124.6" y2="289.1" stroke="#777" stroke-width="0.98"/>
<line x1="104.8" y1="293.2" x2="121.8" y2="293.2" stroke="#222" stroke-width="0.92"/>
<rect x="106" y="281.5" width="2.5" height="2" fill="#000"/>
<rect x="111" y="292.2" width="3" height="1.8" fill="#000"/>
<rect x="128.5" y="273" width="2.3" height="2" fill="#000"/>
<line x1="80.4" y1="297" x2="80.4" y2="327" stroke="#222" stroke-width="0.92"/>
<line x1="80.4" y1="300.4" x2="117" y2="300.4" stroke="#222" stroke-width="0.92"/>
<line x1="80.4" y1="303.6" x2="117" y2="303.6" stroke="#222" stroke-width="1.03"/>
<line x1="80.4" y1="310.2" x2="117" y2="310.2" stroke="#222" stroke-width="0.92"/>
<line x1="117" y1="297" x2="117" y2="312" stroke="#222" stroke-width="0.98"/>
<line x1="103.9" y1="298.5" x2="103.9" y2="312" stroke="#222" stroke-width="0.84"/>
<rect x="98.5" y="299.5" width="2" height="3" fill="#000"/>
<rect x="98.5" y="306" width="2" height="2.5" fill="#000"/>
<rect x="98" y="312.5" width="2" height="3" fill="#000"/>
<line x1="80.4" y1="316.8" x2="107.7" y2="316.8" stroke="#222" stroke-width="0.92"/>
<line x1="80.4" y1="320.8" x2="106" y2="320.8" stroke="#111" stroke-width="1.6"/>
<line x1="106" y1="320.8" x2="106" y2="326.2" stroke="#222" stroke-width="1.03"/>
<line x1="107.7" y1="316.8" x2="107.7" y2="326.2" stroke="#222" stroke-width="0.92"/>
<line x1="99.2" y1="326.2" x2="113.3" y2="326.2" stroke="#222" stroke-width="0.92"/>
<line x1="95.3" y1="334.5" x2="95.3" y2="364.7" stroke="#222" stroke-width="0.92"/>
<line x1="95.3" y1="334.7" x2="112.6" y2="334.7" stroke="#222" stroke-width="0.92"/>
<line x1="101.4" y1="334.5" x2="101.4" y2="343.4" stroke="#222" stroke-width="0.98"/>
<line x1="107" y1="334.5" x2="107" y2="343.4" stroke="#222" stroke-width="0.98"/>
<line x1="112.6" y1="334.5" x2="112.6" y2="343.4" stroke="#222" stroke-width="0.98"/>
<line x1="101.4" y1="356.8" x2="101.4" y2="364.7" stroke="#222" stroke-width="0.98"/>
<line x1="107" y1="356.8" x2="107" y2="364.7" stroke="#222" stroke-width="0.98"/>
<line x1="112.6" y1="356.8" x2="112.6" y2="364.7" stroke="#222" stroke-width="0.98"/>
<line x1="101.4" y1="339" x2="107" y2="339" stroke="#222" stroke-width="0.98"/>
<line x1="101.4" y1="361" x2="107" y2="361" stroke="#222" stroke-width="0.98"/>
<line x1="89.1" y1="343.4" x2="113.7" y2="343.4" stroke="#222" stroke-width="0.92"/>
<line x1="89.1" y1="356.8" x2="113.7" y2="356.8" stroke="#222" stroke-width="0.92"/>
<line x1="113.7" y1="343.4" x2="113.7" y2="356.8" stroke="#222" stroke-width="0.92"/>
<line x1="92" y1="347" x2="95.3" y2="347" stroke="#222" stroke-width="0.84"/>
<line x1="92" y1="353" x2="95.3" y2="353" stroke="#222" stroke-width="0.84"/>
<line x1="84.2" y1="340" x2="84.2" y2="357" stroke="#222" stroke-width="0.98"/>
<line x1="89.1" y1="340" x2="89.1" y2="358" stroke="#222" stroke-width="0.98"/>
<line x1="83" y1="340.4" x2="90" y2="340.4" stroke="#222" stroke-width="0.84"/>
<line x1="83" y1="356.6" x2="90" y2="356.6" stroke="#222" stroke-width="0.84"/>
<rect x="83.6" y="347" width="1.6" height="2.5" fill="#000"/>
<rect x="88.3" y="345" width="1.7" height="2" fill="#000"/>
<rect x="88.3" y="351" width="1.7" height="2" fill="#000"/>
<rect x="110.5" y="354" width="2" height="2" fill="#000"/>
<line x1="95.3" y1="364.7" x2="113.7" y2="364.7" stroke="#222" stroke-width="0.92"/>
<rect x="70" y="331.8" width="10" height="3.8" fill="#000"/>
<rect x="60" y="359" width="13.4" height="4.6" fill="#000"/>
<rect x="68.5" y="401" width="18.3" height="4.6" fill="#000"/>
<text x="117.5" y="386.7" font-size="4.9" font-weight="normal" text-anchor="middle" fill="#333" stroke="#333" stroke-width="0" textLength="42.6" lengthAdjust="spacing">DETAIL MOLDING</text>
<line x1="95.8" y1="387.9" x2="139.4" y2="387.9" stroke="#444" stroke-width="0.98"/>
<rect x="107.4" y="388.7" width="21.3" height="4.2" fill="#000"/>
<rect x="116.5" y="388.7" width="0.7" height="4.2" fill="#fff"/>
<rect x="120" y="388.7" width="0.7" height="4.2" fill="#fff"/>
<rect x="123.6" y="388.7" width="0.7" height="4.2" fill="#fff"/>
</svg>
</body></html>
